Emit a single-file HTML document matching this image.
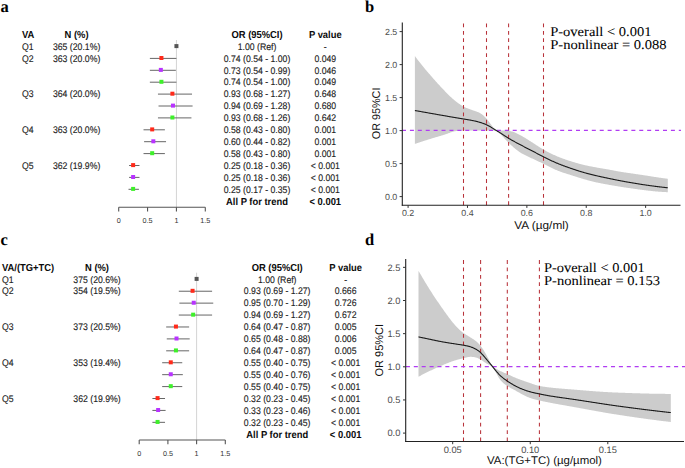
<!DOCTYPE html>
<html><head><meta charset="utf-8"><title>Figure</title>
<style>html,body{margin:0;padding:0;background:#fff;width:685px;height:468px;overflow:hidden;}svg{display:block;}</style>
</head><body>
<svg width="685" height="468" viewBox="0 0 685 468" text-rendering="geometricPrecision">
<rect width="685" height="468" fill="#ffffff"/>
<text x="0.40" y="11.80" font-size="16.5" text-anchor="start" font-weight="bold" fill="#000" font-family='"Liberation Serif", serif' >a</text>
<text transform="translate(22.00 38.00) scale(1 1.08)" font-size="9.4" text-anchor="start" font-weight="bold" fill="#0a0a0a" font-family='"Liberation Sans", sans-serif' >VA</text>
<text transform="translate(76.60 38.00) scale(1 1.08)" font-size="9.4" text-anchor="middle" font-weight="bold" fill="#0a0a0a" font-family='"Liberation Sans", sans-serif' >N (%)</text>
<text transform="translate(257.00 38.00) scale(1 1.08)" font-size="9.4" text-anchor="middle" font-weight="bold" fill="#0a0a0a" font-family='"Liberation Sans", sans-serif' >OR (95%CI)</text>
<text transform="translate(325.30 38.00) scale(1 1.08)" font-size="9.4" text-anchor="middle" font-weight="bold" fill="#0a0a0a" font-family='"Liberation Sans", sans-serif' >P value</text>
<text transform="translate(22.00 49.70) scale(1 1.1)" font-size="8.7" text-anchor="start" font-weight="normal" fill="#1c1c1c" font-family='"Liberation Sans", sans-serif' stroke="#1c1c1c" stroke-width="0.12" >Q1</text>
<text transform="translate(76.60 49.70) scale(1 1.1)" font-size="8.7" text-anchor="middle" font-weight="normal" fill="#1c1c1c" font-family='"Liberation Sans", sans-serif' stroke="#1c1c1c" stroke-width="0.12" >365 (20.1%)</text>
<text transform="translate(22.00 61.60) scale(1 1.1)" font-size="8.7" text-anchor="start" font-weight="normal" fill="#1c1c1c" font-family='"Liberation Sans", sans-serif' stroke="#1c1c1c" stroke-width="0.12" >Q2</text>
<text transform="translate(76.60 61.60) scale(1 1.1)" font-size="8.7" text-anchor="middle" font-weight="normal" fill="#1c1c1c" font-family='"Liberation Sans", sans-serif' stroke="#1c1c1c" stroke-width="0.12" >363 (20.0%)</text>
<text transform="translate(22.00 97.30) scale(1 1.1)" font-size="8.7" text-anchor="start" font-weight="normal" fill="#1c1c1c" font-family='"Liberation Sans", sans-serif' stroke="#1c1c1c" stroke-width="0.12" >Q3</text>
<text transform="translate(76.60 97.30) scale(1 1.1)" font-size="8.7" text-anchor="middle" font-weight="normal" fill="#1c1c1c" font-family='"Liberation Sans", sans-serif' stroke="#1c1c1c" stroke-width="0.12" >364 (20.0%)</text>
<text transform="translate(22.00 133.00) scale(1 1.1)" font-size="8.7" text-anchor="start" font-weight="normal" fill="#1c1c1c" font-family='"Liberation Sans", sans-serif' stroke="#1c1c1c" stroke-width="0.12" >Q4</text>
<text transform="translate(76.60 133.00) scale(1 1.1)" font-size="8.7" text-anchor="middle" font-weight="normal" fill="#1c1c1c" font-family='"Liberation Sans", sans-serif' stroke="#1c1c1c" stroke-width="0.12" >363 (20.0%)</text>
<text transform="translate(22.00 168.70) scale(1 1.1)" font-size="8.7" text-anchor="start" font-weight="normal" fill="#1c1c1c" font-family='"Liberation Sans", sans-serif' stroke="#1c1c1c" stroke-width="0.12" >Q5</text>
<text transform="translate(76.60 168.70) scale(1 1.1)" font-size="8.7" text-anchor="middle" font-weight="normal" fill="#1c1c1c" font-family='"Liberation Sans", sans-serif' stroke="#1c1c1c" stroke-width="0.12" >362 (19.9%)</text>
<text transform="translate(257.00 49.70) scale(1 1.1)" font-size="8.7" text-anchor="middle" font-weight="normal" fill="#1c1c1c" font-family='"Liberation Sans", sans-serif' stroke="#1c1c1c" stroke-width="0.12" >1.00 (Ref)</text>
<text transform="translate(325.30 49.70) scale(1 1.1)" font-size="8.7" text-anchor="middle" font-weight="normal" fill="#1c1c1c" font-family='"Liberation Sans", sans-serif' stroke="#1c1c1c" stroke-width="0.12" >-</text>
<text transform="translate(257.00 61.60) scale(1 1.1)" font-size="8.7" text-anchor="middle" font-weight="normal" fill="#1c1c1c" font-family='"Liberation Sans", sans-serif' stroke="#1c1c1c" stroke-width="0.12" >0.74 (0.54 - 1.00)</text>
<text transform="translate(325.30 61.60) scale(1 1.1)" font-size="8.7" text-anchor="middle" font-weight="normal" fill="#1c1c1c" font-family='"Liberation Sans", sans-serif' stroke="#1c1c1c" stroke-width="0.12" >0.049</text>
<text transform="translate(257.00 73.50) scale(1 1.1)" font-size="8.7" text-anchor="middle" font-weight="normal" fill="#1c1c1c" font-family='"Liberation Sans", sans-serif' stroke="#1c1c1c" stroke-width="0.12" >0.73 (0.54 - 0.99)</text>
<text transform="translate(325.30 73.50) scale(1 1.1)" font-size="8.7" text-anchor="middle" font-weight="normal" fill="#1c1c1c" font-family='"Liberation Sans", sans-serif' stroke="#1c1c1c" stroke-width="0.12" >0.046</text>
<text transform="translate(257.00 85.40) scale(1 1.1)" font-size="8.7" text-anchor="middle" font-weight="normal" fill="#1c1c1c" font-family='"Liberation Sans", sans-serif' stroke="#1c1c1c" stroke-width="0.12" >0.74 (0.54 - 1.00)</text>
<text transform="translate(325.30 85.40) scale(1 1.1)" font-size="8.7" text-anchor="middle" font-weight="normal" fill="#1c1c1c" font-family='"Liberation Sans", sans-serif' stroke="#1c1c1c" stroke-width="0.12" >0.049</text>
<text transform="translate(257.00 97.30) scale(1 1.1)" font-size="8.7" text-anchor="middle" font-weight="normal" fill="#1c1c1c" font-family='"Liberation Sans", sans-serif' stroke="#1c1c1c" stroke-width="0.12" >0.93 (0.68 - 1.27)</text>
<text transform="translate(325.30 97.30) scale(1 1.1)" font-size="8.7" text-anchor="middle" font-weight="normal" fill="#1c1c1c" font-family='"Liberation Sans", sans-serif' stroke="#1c1c1c" stroke-width="0.12" >0.648</text>
<text transform="translate(257.00 109.20) scale(1 1.1)" font-size="8.7" text-anchor="middle" font-weight="normal" fill="#1c1c1c" font-family='"Liberation Sans", sans-serif' stroke="#1c1c1c" stroke-width="0.12" >0.94 (0.69 - 1.28)</text>
<text transform="translate(325.30 109.20) scale(1 1.1)" font-size="8.7" text-anchor="middle" font-weight="normal" fill="#1c1c1c" font-family='"Liberation Sans", sans-serif' stroke="#1c1c1c" stroke-width="0.12" >0.680</text>
<text transform="translate(257.00 121.10) scale(1 1.1)" font-size="8.7" text-anchor="middle" font-weight="normal" fill="#1c1c1c" font-family='"Liberation Sans", sans-serif' stroke="#1c1c1c" stroke-width="0.12" >0.93 (0.68 - 1.26)</text>
<text transform="translate(325.30 121.10) scale(1 1.1)" font-size="8.7" text-anchor="middle" font-weight="normal" fill="#1c1c1c" font-family='"Liberation Sans", sans-serif' stroke="#1c1c1c" stroke-width="0.12" >0.642</text>
<text transform="translate(257.00 133.00) scale(1 1.1)" font-size="8.7" text-anchor="middle" font-weight="normal" fill="#1c1c1c" font-family='"Liberation Sans", sans-serif' stroke="#1c1c1c" stroke-width="0.12" >0.58 (0.43 - 0.80)</text>
<text transform="translate(325.30 133.00) scale(1 1.1)" font-size="8.7" text-anchor="middle" font-weight="normal" fill="#1c1c1c" font-family='"Liberation Sans", sans-serif' stroke="#1c1c1c" stroke-width="0.12" >0.001</text>
<text transform="translate(257.00 144.90) scale(1 1.1)" font-size="8.7" text-anchor="middle" font-weight="normal" fill="#1c1c1c" font-family='"Liberation Sans", sans-serif' stroke="#1c1c1c" stroke-width="0.12" >0.60 (0.44 - 0.82)</text>
<text transform="translate(325.30 144.90) scale(1 1.1)" font-size="8.7" text-anchor="middle" font-weight="normal" fill="#1c1c1c" font-family='"Liberation Sans", sans-serif' stroke="#1c1c1c" stroke-width="0.12" >0.001</text>
<text transform="translate(257.00 156.80) scale(1 1.1)" font-size="8.7" text-anchor="middle" font-weight="normal" fill="#1c1c1c" font-family='"Liberation Sans", sans-serif' stroke="#1c1c1c" stroke-width="0.12" >0.58 (0.43 - 0.80)</text>
<text transform="translate(325.30 156.80) scale(1 1.1)" font-size="8.7" text-anchor="middle" font-weight="normal" fill="#1c1c1c" font-family='"Liberation Sans", sans-serif' stroke="#1c1c1c" stroke-width="0.12" >0.001</text>
<text transform="translate(257.00 168.70) scale(1 1.1)" font-size="8.7" text-anchor="middle" font-weight="normal" fill="#1c1c1c" font-family='"Liberation Sans", sans-serif' stroke="#1c1c1c" stroke-width="0.12" >0.25 (0.18 - 0.36)</text>
<text transform="translate(325.30 168.70) scale(1 1.1)" font-size="8.7" text-anchor="middle" font-weight="normal" fill="#1c1c1c" font-family='"Liberation Sans", sans-serif' stroke="#1c1c1c" stroke-width="0.12" >&lt; 0.001</text>
<text transform="translate(257.00 180.60) scale(1 1.1)" font-size="8.7" text-anchor="middle" font-weight="normal" fill="#1c1c1c" font-family='"Liberation Sans", sans-serif' stroke="#1c1c1c" stroke-width="0.12" >0.25 (0.18 - 0.36)</text>
<text transform="translate(325.30 180.60) scale(1 1.1)" font-size="8.7" text-anchor="middle" font-weight="normal" fill="#1c1c1c" font-family='"Liberation Sans", sans-serif' stroke="#1c1c1c" stroke-width="0.12" >&lt; 0.001</text>
<text transform="translate(257.00 192.50) scale(1 1.1)" font-size="8.7" text-anchor="middle" font-weight="normal" fill="#1c1c1c" font-family='"Liberation Sans", sans-serif' stroke="#1c1c1c" stroke-width="0.12" >0.25 (0.17 - 0.35)</text>
<text transform="translate(325.30 192.50) scale(1 1.1)" font-size="8.7" text-anchor="middle" font-weight="normal" fill="#1c1c1c" font-family='"Liberation Sans", sans-serif' stroke="#1c1c1c" stroke-width="0.12" >&lt; 0.001</text>
<text transform="translate(257.00 204.80) scale(1 1.08)" font-size="9.4" text-anchor="middle" font-weight="bold" fill="#0a0a0a" font-family='"Liberation Sans", sans-serif' >All P for trend</text>
<text transform="translate(325.30 204.80) scale(1 1.08)" font-size="9.4" text-anchor="middle" font-weight="bold" fill="#0a0a0a" font-family='"Liberation Sans", sans-serif' >&lt; 0.001</text>
<line x1="176.43" y1="40" x2="176.43" y2="207.2" stroke="#d4d4d4" stroke-width="1"/>
<line x1="118.70" y1="207.2" x2="205.30" y2="207.2" stroke="#555" stroke-width="1.1"/>
<line x1="118.70" y1="207.2" x2="118.70" y2="211.5" stroke="#555" stroke-width="1.1"/>
<text x="118.70" y="223.30" font-size="7.2" text-anchor="middle" font-weight="normal" fill="#333" font-family='"Liberation Sans", sans-serif' >0</text>
<line x1="147.56" y1="207.2" x2="147.56" y2="211.5" stroke="#555" stroke-width="1.1"/>
<text x="147.56" y="223.30" font-size="7.2" text-anchor="middle" font-weight="normal" fill="#333" font-family='"Liberation Sans", sans-serif' >0.5</text>
<line x1="176.43" y1="207.2" x2="176.43" y2="211.5" stroke="#555" stroke-width="1.1"/>
<text x="176.43" y="223.30" font-size="7.2" text-anchor="middle" font-weight="normal" fill="#333" font-family='"Liberation Sans", sans-serif' >1</text>
<line x1="205.30" y1="207.2" x2="205.30" y2="211.5" stroke="#555" stroke-width="1.1"/>
<text x="205.30" y="223.30" font-size="7.2" text-anchor="middle" font-weight="normal" fill="#333" font-family='"Liberation Sans", sans-serif' >1.5</text>
<rect x="174.43" y="44.10" width="4" height="4" fill="#555"/>
<line x1="149.87" y1="58.40" x2="176.43" y2="58.40" stroke="#666" stroke-width="1"/>
<rect x="159.42" y="56.00" width="4" height="4" fill="#ff2a1a"/>
<line x1="149.87" y1="70.30" x2="175.85" y2="70.30" stroke="#666" stroke-width="1"/>
<rect x="158.84" y="67.90" width="4" height="4" fill="#b833ff"/>
<line x1="149.87" y1="82.20" x2="176.43" y2="82.20" stroke="#666" stroke-width="1"/>
<rect x="159.42" y="79.80" width="4" height="4" fill="#3ef02a"/>
<line x1="157.96" y1="94.10" x2="192.02" y2="94.10" stroke="#666" stroke-width="1"/>
<rect x="170.39" y="91.70" width="4" height="4" fill="#ff2a1a"/>
<line x1="158.53" y1="106.00" x2="192.59" y2="106.00" stroke="#666" stroke-width="1"/>
<rect x="170.97" y="103.60" width="4" height="4" fill="#b833ff"/>
<line x1="157.96" y1="117.90" x2="191.44" y2="117.90" stroke="#666" stroke-width="1"/>
<rect x="170.39" y="115.50" width="4" height="4" fill="#3ef02a"/>
<line x1="143.52" y1="129.80" x2="164.88" y2="129.80" stroke="#666" stroke-width="1"/>
<rect x="150.18" y="127.40" width="4" height="4" fill="#ff2a1a"/>
<line x1="144.10" y1="141.70" x2="166.04" y2="141.70" stroke="#666" stroke-width="1"/>
<rect x="151.34" y="139.30" width="4" height="4" fill="#b833ff"/>
<line x1="143.52" y1="153.60" x2="164.88" y2="153.60" stroke="#666" stroke-width="1"/>
<rect x="150.18" y="151.20" width="4" height="4" fill="#3ef02a"/>
<line x1="129.09" y1="165.50" x2="139.48" y2="165.50" stroke="#666" stroke-width="1"/>
<rect x="131.13" y="163.10" width="4" height="4" fill="#ff2a1a"/>
<line x1="129.09" y1="177.40" x2="139.48" y2="177.40" stroke="#666" stroke-width="1"/>
<rect x="131.13" y="175.00" width="4" height="4" fill="#b833ff"/>
<line x1="128.51" y1="189.30" x2="138.91" y2="189.30" stroke="#666" stroke-width="1"/>
<rect x="131.13" y="186.90" width="4" height="4" fill="#3ef02a"/>
<text x="0.40" y="244.80" font-size="16.5" text-anchor="start" font-weight="bold" fill="#000" font-family='"Liberation Serif", serif' >c</text>
<text transform="translate(2.00 271.10) scale(1 1.08)" font-size="9.4" text-anchor="start" font-weight="bold" fill="#0a0a0a" font-family='"Liberation Sans", sans-serif' >VA/(TG+TC)</text>
<text transform="translate(97.00 271.10) scale(1 1.08)" font-size="9.4" text-anchor="middle" font-weight="bold" fill="#0a0a0a" font-family='"Liberation Sans", sans-serif' >N (%)</text>
<text transform="translate(277.20 271.10) scale(1 1.08)" font-size="9.4" text-anchor="middle" font-weight="bold" fill="#0a0a0a" font-family='"Liberation Sans", sans-serif' >OR (95%CI)</text>
<text transform="translate(345.60 271.10) scale(1 1.08)" font-size="9.4" text-anchor="middle" font-weight="bold" fill="#0a0a0a" font-family='"Liberation Sans", sans-serif' >P value</text>
<text transform="translate(2.00 282.50) scale(1 1.1)" font-size="8.7" text-anchor="start" font-weight="normal" fill="#1c1c1c" font-family='"Liberation Sans", sans-serif' stroke="#1c1c1c" stroke-width="0.12" >Q1</text>
<text transform="translate(97.00 282.50) scale(1 1.1)" font-size="8.7" text-anchor="middle" font-weight="normal" fill="#1c1c1c" font-family='"Liberation Sans", sans-serif' stroke="#1c1c1c" stroke-width="0.12" >375 (20.6%)</text>
<text transform="translate(2.00 294.42) scale(1 1.1)" font-size="8.7" text-anchor="start" font-weight="normal" fill="#1c1c1c" font-family='"Liberation Sans", sans-serif' stroke="#1c1c1c" stroke-width="0.12" >Q2</text>
<text transform="translate(97.00 294.42) scale(1 1.1)" font-size="8.7" text-anchor="middle" font-weight="normal" fill="#1c1c1c" font-family='"Liberation Sans", sans-serif' stroke="#1c1c1c" stroke-width="0.12" >354 (19.5%)</text>
<text transform="translate(2.00 330.18) scale(1 1.1)" font-size="8.7" text-anchor="start" font-weight="normal" fill="#1c1c1c" font-family='"Liberation Sans", sans-serif' stroke="#1c1c1c" stroke-width="0.12" >Q3</text>
<text transform="translate(97.00 330.18) scale(1 1.1)" font-size="8.7" text-anchor="middle" font-weight="normal" fill="#1c1c1c" font-family='"Liberation Sans", sans-serif' stroke="#1c1c1c" stroke-width="0.12" >373 (20.5%)</text>
<text transform="translate(2.00 365.94) scale(1 1.1)" font-size="8.7" text-anchor="start" font-weight="normal" fill="#1c1c1c" font-family='"Liberation Sans", sans-serif' stroke="#1c1c1c" stroke-width="0.12" >Q4</text>
<text transform="translate(97.00 365.94) scale(1 1.1)" font-size="8.7" text-anchor="middle" font-weight="normal" fill="#1c1c1c" font-family='"Liberation Sans", sans-serif' stroke="#1c1c1c" stroke-width="0.12" >353 (19.4%)</text>
<text transform="translate(2.00 401.70) scale(1 1.1)" font-size="8.7" text-anchor="start" font-weight="normal" fill="#1c1c1c" font-family='"Liberation Sans", sans-serif' stroke="#1c1c1c" stroke-width="0.12" >Q5</text>
<text transform="translate(97.00 401.70) scale(1 1.1)" font-size="8.7" text-anchor="middle" font-weight="normal" fill="#1c1c1c" font-family='"Liberation Sans", sans-serif' stroke="#1c1c1c" stroke-width="0.12" >362 (19.9%)</text>
<text transform="translate(277.20 282.50) scale(1 1.1)" font-size="8.7" text-anchor="middle" font-weight="normal" fill="#1c1c1c" font-family='"Liberation Sans", sans-serif' stroke="#1c1c1c" stroke-width="0.12" >1.00 (Ref)</text>
<text transform="translate(345.60 282.50) scale(1 1.1)" font-size="8.7" text-anchor="middle" font-weight="normal" fill="#1c1c1c" font-family='"Liberation Sans", sans-serif' stroke="#1c1c1c" stroke-width="0.12" >-</text>
<text transform="translate(277.20 294.42) scale(1 1.1)" font-size="8.7" text-anchor="middle" font-weight="normal" fill="#1c1c1c" font-family='"Liberation Sans", sans-serif' stroke="#1c1c1c" stroke-width="0.12" >0.93 (0.69 - 1.27)</text>
<text transform="translate(345.60 294.42) scale(1 1.1)" font-size="8.7" text-anchor="middle" font-weight="normal" fill="#1c1c1c" font-family='"Liberation Sans", sans-serif' stroke="#1c1c1c" stroke-width="0.12" >0.666</text>
<text transform="translate(277.20 306.34) scale(1 1.1)" font-size="8.7" text-anchor="middle" font-weight="normal" fill="#1c1c1c" font-family='"Liberation Sans", sans-serif' stroke="#1c1c1c" stroke-width="0.12" >0.95 (0.70 - 1.29)</text>
<text transform="translate(345.60 306.34) scale(1 1.1)" font-size="8.7" text-anchor="middle" font-weight="normal" fill="#1c1c1c" font-family='"Liberation Sans", sans-serif' stroke="#1c1c1c" stroke-width="0.12" >0.726</text>
<text transform="translate(277.20 318.26) scale(1 1.1)" font-size="8.7" text-anchor="middle" font-weight="normal" fill="#1c1c1c" font-family='"Liberation Sans", sans-serif' stroke="#1c1c1c" stroke-width="0.12" >0.94 (0.69 - 1.27)</text>
<text transform="translate(345.60 318.26) scale(1 1.1)" font-size="8.7" text-anchor="middle" font-weight="normal" fill="#1c1c1c" font-family='"Liberation Sans", sans-serif' stroke="#1c1c1c" stroke-width="0.12" >0.672</text>
<text transform="translate(277.20 330.18) scale(1 1.1)" font-size="8.7" text-anchor="middle" font-weight="normal" fill="#1c1c1c" font-family='"Liberation Sans", sans-serif' stroke="#1c1c1c" stroke-width="0.12" >0.64 (0.47 - 0.87)</text>
<text transform="translate(345.60 330.18) scale(1 1.1)" font-size="8.7" text-anchor="middle" font-weight="normal" fill="#1c1c1c" font-family='"Liberation Sans", sans-serif' stroke="#1c1c1c" stroke-width="0.12" >0.005</text>
<text transform="translate(277.20 342.10) scale(1 1.1)" font-size="8.7" text-anchor="middle" font-weight="normal" fill="#1c1c1c" font-family='"Liberation Sans", sans-serif' stroke="#1c1c1c" stroke-width="0.12" >0.65 (0.48 - 0.88)</text>
<text transform="translate(345.60 342.10) scale(1 1.1)" font-size="8.7" text-anchor="middle" font-weight="normal" fill="#1c1c1c" font-family='"Liberation Sans", sans-serif' stroke="#1c1c1c" stroke-width="0.12" >0.006</text>
<text transform="translate(277.20 354.02) scale(1 1.1)" font-size="8.7" text-anchor="middle" font-weight="normal" fill="#1c1c1c" font-family='"Liberation Sans", sans-serif' stroke="#1c1c1c" stroke-width="0.12" >0.64 (0.47 - 0.87)</text>
<text transform="translate(345.60 354.02) scale(1 1.1)" font-size="8.7" text-anchor="middle" font-weight="normal" fill="#1c1c1c" font-family='"Liberation Sans", sans-serif' stroke="#1c1c1c" stroke-width="0.12" >0.005</text>
<text transform="translate(277.20 365.94) scale(1 1.1)" font-size="8.7" text-anchor="middle" font-weight="normal" fill="#1c1c1c" font-family='"Liberation Sans", sans-serif' stroke="#1c1c1c" stroke-width="0.12" >0.55 (0.40 - 0.75)</text>
<text transform="translate(345.60 365.94) scale(1 1.1)" font-size="8.7" text-anchor="middle" font-weight="normal" fill="#1c1c1c" font-family='"Liberation Sans", sans-serif' stroke="#1c1c1c" stroke-width="0.12" >&lt; 0.001</text>
<text transform="translate(277.20 377.86) scale(1 1.1)" font-size="8.7" text-anchor="middle" font-weight="normal" fill="#1c1c1c" font-family='"Liberation Sans", sans-serif' stroke="#1c1c1c" stroke-width="0.12" >0.55 (0.40 - 0.76)</text>
<text transform="translate(345.60 377.86) scale(1 1.1)" font-size="8.7" text-anchor="middle" font-weight="normal" fill="#1c1c1c" font-family='"Liberation Sans", sans-serif' stroke="#1c1c1c" stroke-width="0.12" >&lt; 0.001</text>
<text transform="translate(277.20 389.78) scale(1 1.1)" font-size="8.7" text-anchor="middle" font-weight="normal" fill="#1c1c1c" font-family='"Liberation Sans", sans-serif' stroke="#1c1c1c" stroke-width="0.12" >0.55 (0.40 - 0.75)</text>
<text transform="translate(345.60 389.78) scale(1 1.1)" font-size="8.7" text-anchor="middle" font-weight="normal" fill="#1c1c1c" font-family='"Liberation Sans", sans-serif' stroke="#1c1c1c" stroke-width="0.12" >&lt; 0.001</text>
<text transform="translate(277.20 401.70) scale(1 1.1)" font-size="8.7" text-anchor="middle" font-weight="normal" fill="#1c1c1c" font-family='"Liberation Sans", sans-serif' stroke="#1c1c1c" stroke-width="0.12" >0.32 (0.23 - 0.45)</text>
<text transform="translate(345.60 401.70) scale(1 1.1)" font-size="8.7" text-anchor="middle" font-weight="normal" fill="#1c1c1c" font-family='"Liberation Sans", sans-serif' stroke="#1c1c1c" stroke-width="0.12" >&lt; 0.001</text>
<text transform="translate(277.20 413.62) scale(1 1.1)" font-size="8.7" text-anchor="middle" font-weight="normal" fill="#1c1c1c" font-family='"Liberation Sans", sans-serif' stroke="#1c1c1c" stroke-width="0.12" >0.33 (0.23 - 0.46)</text>
<text transform="translate(345.60 413.62) scale(1 1.1)" font-size="8.7" text-anchor="middle" font-weight="normal" fill="#1c1c1c" font-family='"Liberation Sans", sans-serif' stroke="#1c1c1c" stroke-width="0.12" >&lt; 0.001</text>
<text transform="translate(277.20 425.54) scale(1 1.1)" font-size="8.7" text-anchor="middle" font-weight="normal" fill="#1c1c1c" font-family='"Liberation Sans", sans-serif' stroke="#1c1c1c" stroke-width="0.12" >0.32 (0.23 - 0.45)</text>
<text transform="translate(345.60 425.54) scale(1 1.1)" font-size="8.7" text-anchor="middle" font-weight="normal" fill="#1c1c1c" font-family='"Liberation Sans", sans-serif' stroke="#1c1c1c" stroke-width="0.12" >&lt; 0.001</text>
<text transform="translate(277.20 437.86) scale(1 1.08)" font-size="9.4" text-anchor="middle" font-weight="bold" fill="#0a0a0a" font-family='"Liberation Sans", sans-serif' >All P for trend</text>
<text transform="translate(345.60 437.86) scale(1 1.08)" font-size="9.4" text-anchor="middle" font-weight="bold" fill="#0a0a0a" font-family='"Liberation Sans", sans-serif' >&lt; 0.001</text>
<line x1="196.60" y1="272.7" x2="196.60" y2="440.0" stroke="#d4d4d4" stroke-width="1"/>
<line x1="139.20" y1="440.0" x2="225.30" y2="440.0" stroke="#555" stroke-width="1.1"/>
<line x1="139.20" y1="440.0" x2="139.20" y2="444.3" stroke="#555" stroke-width="1.1"/>
<text x="139.20" y="455.90" font-size="7.2" text-anchor="middle" font-weight="normal" fill="#333" font-family='"Liberation Sans", sans-serif' >0</text>
<line x1="167.90" y1="440.0" x2="167.90" y2="444.3" stroke="#555" stroke-width="1.1"/>
<text x="167.90" y="455.90" font-size="7.2" text-anchor="middle" font-weight="normal" fill="#333" font-family='"Liberation Sans", sans-serif' >0.5</text>
<line x1="196.60" y1="440.0" x2="196.60" y2="444.3" stroke="#555" stroke-width="1.1"/>
<text x="196.60" y="455.90" font-size="7.2" text-anchor="middle" font-weight="normal" fill="#333" font-family='"Liberation Sans", sans-serif' >1</text>
<line x1="225.30" y1="440.0" x2="225.30" y2="444.3" stroke="#555" stroke-width="1.1"/>
<text x="225.30" y="455.90" font-size="7.2" text-anchor="middle" font-weight="normal" fill="#333" font-family='"Liberation Sans", sans-serif' >1.5</text>
<rect x="194.60" y="276.90" width="4" height="4" fill="#555"/>
<line x1="178.81" y1="291.22" x2="212.10" y2="291.22" stroke="#666" stroke-width="1"/>
<rect x="190.58" y="288.82" width="4" height="4" fill="#ff2a1a"/>
<line x1="179.38" y1="303.14" x2="213.25" y2="303.14" stroke="#666" stroke-width="1"/>
<rect x="191.73" y="300.74" width="4" height="4" fill="#b833ff"/>
<line x1="178.81" y1="315.06" x2="212.10" y2="315.06" stroke="#666" stroke-width="1"/>
<rect x="191.16" y="312.66" width="4" height="4" fill="#3ef02a"/>
<line x1="166.18" y1="326.98" x2="189.14" y2="326.98" stroke="#666" stroke-width="1"/>
<rect x="173.94" y="324.58" width="4" height="4" fill="#ff2a1a"/>
<line x1="166.75" y1="338.90" x2="189.71" y2="338.90" stroke="#666" stroke-width="1"/>
<rect x="174.51" y="336.50" width="4" height="4" fill="#b833ff"/>
<line x1="166.18" y1="350.82" x2="189.14" y2="350.82" stroke="#666" stroke-width="1"/>
<rect x="173.94" y="348.42" width="4" height="4" fill="#3ef02a"/>
<line x1="162.16" y1="362.74" x2="182.25" y2="362.74" stroke="#666" stroke-width="1"/>
<rect x="168.77" y="360.34" width="4" height="4" fill="#ff2a1a"/>
<line x1="162.16" y1="374.66" x2="182.82" y2="374.66" stroke="#666" stroke-width="1"/>
<rect x="168.77" y="372.26" width="4" height="4" fill="#b833ff"/>
<line x1="162.16" y1="386.58" x2="182.25" y2="386.58" stroke="#666" stroke-width="1"/>
<rect x="168.77" y="384.18" width="4" height="4" fill="#3ef02a"/>
<line x1="152.40" y1="398.50" x2="165.03" y2="398.50" stroke="#666" stroke-width="1"/>
<rect x="155.57" y="396.10" width="4" height="4" fill="#ff2a1a"/>
<line x1="152.40" y1="410.42" x2="165.60" y2="410.42" stroke="#666" stroke-width="1"/>
<rect x="156.14" y="408.02" width="4" height="4" fill="#b833ff"/>
<line x1="152.40" y1="422.34" x2="165.03" y2="422.34" stroke="#666" stroke-width="1"/>
<rect x="155.57" y="419.94" width="4" height="4" fill="#3ef02a"/>
<text x="364.90" y="11.90" font-size="16.5" text-anchor="start" font-weight="bold" fill="#000" font-family='"Liberation Serif", serif' >b</text>
<path d="M414.90,56.09 L415.40,56.75 L415.90,57.41 L416.40,58.07 L416.90,58.73 L417.40,59.38 L417.90,60.04 L418.40,60.68 L418.90,61.33 L419.40,61.97 L419.90,62.60 L420.40,63.24 L420.90,63.87 L421.40,64.50 L421.90,65.12 L422.40,65.74 L422.90,66.36 L423.40,66.97 L423.90,67.58 L424.40,68.18 L424.90,68.79 L425.40,69.38 L425.90,69.98 L426.40,70.57 L426.90,71.15 L427.40,71.73 L427.90,72.31 L428.40,72.89 L428.90,73.47 L429.40,74.04 L429.90,74.62 L430.40,75.19 L430.90,75.76 L431.40,76.34 L431.90,76.91 L432.40,77.48 L432.90,78.06 L433.40,78.63 L433.90,79.20 L434.40,79.77 L434.90,80.34 L435.40,80.91 L435.90,81.47 L436.40,82.04 L436.90,82.59 L437.40,83.15 L437.90,83.70 L438.40,84.25 L438.90,84.79 L439.40,85.33 L439.90,85.87 L440.40,86.41 L440.90,86.94 L441.40,87.47 L441.90,88.00 L442.40,88.52 L442.90,89.05 L443.40,89.57 L443.90,90.09 L444.40,90.61 L444.90,91.13 L445.40,91.65 L445.90,92.16 L446.40,92.68 L446.90,93.19 L447.40,93.70 L447.90,94.20 L448.40,94.71 L448.90,95.20 L449.40,95.69 L449.90,96.18 L450.40,96.65 L450.90,97.12 L451.40,97.59 L451.90,98.04 L452.40,98.48 L452.90,98.92 L453.40,99.35 L453.90,99.77 L454.40,100.18 L454.90,100.59 L455.40,100.99 L455.90,101.38 L456.40,101.77 L456.90,102.15 L457.40,102.53 L457.90,102.91 L458.40,103.28 L458.90,103.64 L459.40,104.00 L459.90,104.34 L460.40,104.68 L460.90,105.02 L461.40,105.34 L461.90,105.64 L462.40,105.94 L462.90,106.22 L463.40,106.49 L463.90,106.75 L464.40,107.00 L464.90,107.24 L465.40,107.47 L465.90,107.68 L466.40,107.90 L466.90,108.10 L467.40,108.30 L467.90,108.50 L468.40,108.69 L468.90,108.87 L469.40,109.06 L469.90,109.24 L470.40,109.42 L470.90,109.60 L471.40,109.78 L471.90,109.96 L472.40,110.13 L472.90,110.30 L473.40,110.47 L473.90,110.64 L474.40,110.81 L474.90,110.98 L475.40,111.15 L475.90,111.33 L476.40,111.51 L476.90,111.70 L477.40,111.90 L477.90,112.11 L478.40,112.33 L478.90,112.56 L479.40,112.81 L479.90,113.07 L480.40,113.35 L480.90,113.65 L481.40,113.97 L481.90,114.31 L482.40,114.68 L482.90,115.06 L483.40,115.48 L483.90,115.92 L484.40,116.38 L484.90,116.88 L485.40,117.40 L485.90,117.95 L486.40,118.53 L486.90,119.12 L487.40,119.74 L487.90,120.38 L488.40,121.03 L488.90,121.69 L489.40,122.36 L489.90,123.04 L490.40,123.71 L490.90,124.37 L491.40,125.03 L491.90,125.67 L492.40,126.29 L492.90,126.88 L493.40,127.43 L493.90,127.94 L494.40,128.41 L494.90,128.82 L495.40,129.18 L495.90,129.49 L496.40,129.75 L496.90,129.95 L497.40,130.11 L497.90,130.23 L498.40,130.32 L498.90,130.39 L499.40,130.43 L499.90,130.47 L500.40,130.49 L500.90,130.51 L501.40,130.52 L501.90,130.53 L502.40,130.54 L502.90,130.56 L503.40,130.57 L503.90,130.59 L504.40,130.61 L504.90,130.63 L505.40,130.65 L505.90,130.68 L506.40,130.72 L506.90,130.76 L507.40,130.80 L507.90,130.85 L508.40,130.91 L508.90,130.97 L509.40,131.03 L509.90,131.11 L510.40,131.19 L510.90,131.28 L511.40,131.38 L511.90,131.49 L512.40,131.62 L512.90,131.75 L513.40,131.91 L513.90,132.08 L514.40,132.26 L514.90,132.46 L515.40,132.68 L515.90,132.90 L516.40,133.14 L516.90,133.38 L517.40,133.64 L517.90,133.89 L518.40,134.15 L518.90,134.42 L519.40,134.69 L519.90,134.95 L520.40,135.23 L520.90,135.50 L521.40,135.78 L521.90,136.06 L522.40,136.34 L522.90,136.63 L523.40,136.92 L523.90,137.21 L524.40,137.51 L524.90,137.81 L525.40,138.12 L525.90,138.43 L526.40,138.74 L526.90,139.05 L527.40,139.37 L527.90,139.68 L528.40,140.00 L528.90,140.32 L529.40,140.64 L529.90,140.96 L530.40,141.28 L530.90,141.59 L531.40,141.91 L531.90,142.23 L532.40,142.55 L532.90,142.87 L533.40,143.19 L533.90,143.51 L534.40,143.83 L534.90,144.16 L535.40,144.48 L535.90,144.81 L536.40,145.14 L536.90,145.46 L537.40,145.79 L537.90,146.12 L538.40,146.44 L538.90,146.76 L539.40,147.08 L539.90,147.40 L540.40,147.71 L540.90,148.02 L541.40,148.33 L541.90,148.63 L542.40,148.93 L542.90,149.22 L543.40,149.51 L543.90,149.79 L544.40,150.07 L544.90,150.35 L545.40,150.62 L545.90,150.89 L546.40,151.16 L546.90,151.42 L547.40,151.69 L547.90,151.95 L548.40,152.21 L548.90,152.46 L549.40,152.71 L549.90,152.97 L550.40,153.21 L550.90,153.46 L551.40,153.70 L551.90,153.95 L552.40,154.18 L552.90,154.42 L553.40,154.65 L553.90,154.88 L554.40,155.11 L554.90,155.34 L555.40,155.56 L555.90,155.78 L556.40,156.00 L556.90,156.21 L557.40,156.42 L557.90,156.63 L558.40,156.84 L558.90,157.04 L559.40,157.24 L559.90,157.44 L560.40,157.63 L560.90,157.83 L561.40,158.02 L561.90,158.20 L562.40,158.39 L562.90,158.57 L563.40,158.75 L563.90,158.93 L564.40,159.11 L564.90,159.29 L565.40,159.46 L565.90,159.63 L566.40,159.80 L566.90,159.97 L567.40,160.14 L567.90,160.30 L568.40,160.47 L568.90,160.63 L569.40,160.79 L569.90,160.95 L570.40,161.11 L570.90,161.27 L571.40,161.42 L571.90,161.58 L572.40,161.74 L572.90,161.89 L573.40,162.04 L573.90,162.19 L574.40,162.35 L574.90,162.50 L575.40,162.65 L575.90,162.79 L576.40,162.94 L576.90,163.08 L577.40,163.23 L577.90,163.37 L578.40,163.51 L578.90,163.65 L579.40,163.79 L579.90,163.92 L580.40,164.06 L580.90,164.19 L581.40,164.32 L581.90,164.45 L582.40,164.57 L582.90,164.69 L583.40,164.82 L583.90,164.94 L584.40,165.05 L584.90,165.17 L585.40,165.28 L585.90,165.39 L586.40,165.50 L586.90,165.61 L587.40,165.72 L587.90,165.82 L588.40,165.92 L588.90,166.03 L589.40,166.13 L589.90,166.23 L590.40,166.32 L590.90,166.42 L591.40,166.52 L591.90,166.61 L592.40,166.71 L592.90,166.80 L593.40,166.90 L593.90,166.99 L594.40,167.08 L594.90,167.18 L595.40,167.27 L595.90,167.36 L596.40,167.45 L596.90,167.54 L597.40,167.63 L597.90,167.71 L598.40,167.80 L598.90,167.89 L599.40,167.97 L599.90,168.06 L600.40,168.14 L600.90,168.23 L601.40,168.31 L601.90,168.39 L602.40,168.48 L602.90,168.56 L603.40,168.65 L603.90,168.73 L604.40,168.81 L604.90,168.90 L605.40,168.99 L605.90,169.07 L606.40,169.16 L606.90,169.25 L607.40,169.34 L607.90,169.43 L608.40,169.52 L608.90,169.61 L609.40,169.70 L609.90,169.80 L610.40,169.89 L610.90,169.98 L611.40,170.08 L611.90,170.18 L612.40,170.27 L612.90,170.37 L613.40,170.47 L613.90,170.56 L614.40,170.66 L614.90,170.76 L615.40,170.85 L615.90,170.95 L616.40,171.04 L616.90,171.13 L617.40,171.23 L617.90,171.32 L618.40,171.41 L618.90,171.50 L619.40,171.58 L619.90,171.67 L620.40,171.75 L620.90,171.84 L621.40,171.92 L621.90,172.00 L622.40,172.08 L622.90,172.16 L623.40,172.24 L623.90,172.31 L624.40,172.39 L624.90,172.46 L625.40,172.54 L625.90,172.61 L626.40,172.68 L626.90,172.75 L627.40,172.83 L627.90,172.90 L628.40,172.97 L628.90,173.04 L629.40,173.11 L629.90,173.18 L630.40,173.25 L630.90,173.33 L631.40,173.40 L631.90,173.47 L632.40,173.54 L632.90,173.61 L633.40,173.69 L633.90,173.76 L634.40,173.83 L634.90,173.91 L635.40,173.98 L635.90,174.05 L636.40,174.13 L636.90,174.20 L637.40,174.27 L637.90,174.35 L638.40,174.42 L638.90,174.50 L639.40,174.57 L639.90,174.64 L640.40,174.72 L640.90,174.79 L641.40,174.87 L641.90,174.94 L642.40,175.01 L642.90,175.09 L643.40,175.16 L643.90,175.24 L644.40,175.31 L644.90,175.39 L645.40,175.47 L645.90,175.54 L646.40,175.62 L646.90,175.70 L647.40,175.77 L647.90,175.85 L648.40,175.93 L648.90,176.01 L649.40,176.09 L649.90,176.16 L650.40,176.24 L650.90,176.32 L651.40,176.40 L651.90,176.48 L652.40,176.56 L652.90,176.64 L653.40,176.72 L653.90,176.80 L654.40,176.88 L654.90,176.96 L655.40,177.03 L655.90,177.11 L656.40,177.19 L656.90,177.27 L657.40,177.34 L657.90,177.42 L658.40,177.49 L658.90,177.57 L659.40,177.64 L659.90,177.71 L660.40,177.78 L660.90,177.86 L661.40,177.93 L661.90,178.00 L662.40,178.07 L662.90,178.14 L663.40,178.21 L663.90,178.27 L664.40,178.34 L664.90,178.41 L665.40,178.47 L665.90,178.54 L666.40,178.60 L666.90,178.66 L667.40,178.73 L667.80,178.78 L667.80,192.19 L667.40,192.17 L666.90,192.15 L666.40,192.13 L665.90,192.11 L665.40,192.08 L664.90,192.06 L664.40,192.03 L663.90,192.00 L663.40,191.98 L662.90,191.95 L662.40,191.92 L661.90,191.88 L661.40,191.85 L660.90,191.82 L660.40,191.78 L659.90,191.75 L659.40,191.71 L658.90,191.68 L658.40,191.64 L657.90,191.60 L657.40,191.56 L656.90,191.51 L656.40,191.47 L655.90,191.43 L655.40,191.38 L654.90,191.33 L654.40,191.28 L653.90,191.23 L653.40,191.18 L652.90,191.13 L652.40,191.08 L651.90,191.03 L651.40,190.97 L650.90,190.92 L650.40,190.86 L649.90,190.81 L649.40,190.75 L648.90,190.70 L648.40,190.64 L647.90,190.58 L647.40,190.52 L646.90,190.47 L646.40,190.41 L645.90,190.35 L645.40,190.29 L644.90,190.23 L644.40,190.17 L643.90,190.11 L643.40,190.04 L642.90,189.98 L642.40,189.92 L641.90,189.85 L641.40,189.79 L640.90,189.72 L640.40,189.65 L639.90,189.59 L639.40,189.52 L638.90,189.45 L638.40,189.38 L637.90,189.31 L637.40,189.24 L636.90,189.17 L636.40,189.10 L635.90,189.04 L635.40,188.97 L634.90,188.90 L634.40,188.83 L633.90,188.76 L633.40,188.69 L632.90,188.62 L632.40,188.54 L631.90,188.47 L631.40,188.40 L630.90,188.33 L630.40,188.26 L629.90,188.19 L629.40,188.12 L628.90,188.05 L628.40,187.97 L627.90,187.90 L627.40,187.83 L626.90,187.76 L626.40,187.68 L625.90,187.61 L625.40,187.53 L624.90,187.46 L624.40,187.38 L623.90,187.31 L623.40,187.23 L622.90,187.15 L622.40,187.08 L621.90,187.00 L621.40,186.92 L620.90,186.84 L620.40,186.76 L619.90,186.68 L619.40,186.60 L618.90,186.52 L618.40,186.44 L617.90,186.36 L617.40,186.28 L616.90,186.19 L616.40,186.11 L615.90,186.03 L615.40,185.94 L614.90,185.86 L614.40,185.77 L613.90,185.68 L613.40,185.60 L612.90,185.51 L612.40,185.42 L611.90,185.33 L611.40,185.25 L610.90,185.16 L610.40,185.07 L609.90,184.98 L609.40,184.89 L608.90,184.80 L608.40,184.71 L607.90,184.62 L607.40,184.53 L606.90,184.44 L606.40,184.34 L605.90,184.25 L605.40,184.16 L604.90,184.07 L604.40,183.98 L603.90,183.88 L603.40,183.79 L602.90,183.70 L602.40,183.60 L601.90,183.51 L601.40,183.41 L600.90,183.32 L600.40,183.22 L599.90,183.12 L599.40,183.02 L598.90,182.92 L598.40,182.82 L597.90,182.71 L597.40,182.61 L596.90,182.50 L596.40,182.40 L595.90,182.29 L595.40,182.17 L594.90,182.06 L594.40,181.95 L593.90,181.83 L593.40,181.71 L592.90,181.59 L592.40,181.46 L591.90,181.34 L591.40,181.21 L590.90,181.08 L590.40,180.95 L589.90,180.82 L589.40,180.68 L588.90,180.55 L588.40,180.41 L587.90,180.27 L587.40,180.13 L586.90,179.99 L586.40,179.85 L585.90,179.71 L585.40,179.57 L584.90,179.42 L584.40,179.28 L583.90,179.13 L583.40,178.99 L582.90,178.84 L582.40,178.69 L581.90,178.54 L581.40,178.39 L580.90,178.24 L580.40,178.09 L579.90,177.94 L579.40,177.78 L578.90,177.63 L578.40,177.47 L577.90,177.31 L577.40,177.15 L576.90,176.99 L576.40,176.84 L575.90,176.68 L575.40,176.52 L574.90,176.36 L574.40,176.20 L573.90,176.04 L573.40,175.88 L572.90,175.72 L572.40,175.56 L571.90,175.40 L571.40,175.24 L570.90,175.08 L570.40,174.92 L569.90,174.76 L569.40,174.61 L568.90,174.45 L568.40,174.30 L567.90,174.14 L567.40,173.98 L566.90,173.83 L566.40,173.67 L565.90,173.51 L565.40,173.36 L564.90,173.20 L564.40,173.04 L563.90,172.88 L563.40,172.71 L562.90,172.55 L562.40,172.38 L561.90,172.21 L561.40,172.04 L560.90,171.86 L560.40,171.68 L559.90,171.50 L559.40,171.31 L558.90,171.12 L558.40,170.92 L557.90,170.72 L557.40,170.52 L556.90,170.31 L556.40,170.10 L555.90,169.88 L555.40,169.65 L554.90,169.43 L554.40,169.20 L553.90,168.96 L553.40,168.73 L552.90,168.48 L552.40,168.24 L551.90,168.00 L551.40,167.75 L550.90,167.50 L550.40,167.25 L549.90,167.00 L549.40,166.74 L548.90,166.49 L548.40,166.24 L547.90,165.99 L547.40,165.73 L546.90,165.48 L546.40,165.23 L545.90,164.98 L545.40,164.74 L544.90,164.49 L544.40,164.25 L543.90,164.01 L543.40,163.77 L542.90,163.53 L542.40,163.29 L541.90,163.06 L541.40,162.82 L540.90,162.59 L540.40,162.36 L539.90,162.12 L539.40,161.89 L538.90,161.66 L538.40,161.43 L537.90,161.19 L537.40,160.96 L536.90,160.73 L536.40,160.50 L535.90,160.26 L535.40,160.03 L534.90,159.79 L534.40,159.56 L533.90,159.32 L533.40,159.09 L532.90,158.85 L532.40,158.62 L531.90,158.38 L531.40,158.15 L530.90,157.92 L530.40,157.68 L529.90,157.45 L529.40,157.22 L528.90,156.99 L528.40,156.76 L527.90,156.52 L527.40,156.29 L526.90,156.05 L526.40,155.81 L525.90,155.57 L525.40,155.33 L524.90,155.08 L524.40,154.83 L523.90,154.57 L523.40,154.30 L522.90,154.03 L522.40,153.76 L521.90,153.47 L521.40,153.18 L520.90,152.88 L520.40,152.57 L519.90,152.25 L519.40,151.92 L518.90,151.58 L518.40,151.24 L517.90,150.87 L517.40,150.50 L516.90,150.12 L516.40,149.73 L515.90,149.33 L515.40,148.93 L514.90,148.51 L514.40,148.08 L513.90,147.65 L513.40,147.21 L512.90,146.77 L512.40,146.32 L511.90,145.86 L511.40,145.40 L510.90,144.94 L510.40,144.47 L509.90,144.00 L509.40,143.52 L508.90,143.04 L508.40,142.55 L507.90,142.05 L507.40,141.55 L506.90,141.04 L506.40,140.52 L505.90,140.00 L505.40,139.47 L504.90,138.93 L504.40,138.39 L503.90,137.84 L503.40,137.29 L502.90,136.74 L502.40,136.18 L501.90,135.62 L501.40,135.06 L500.90,134.51 L500.40,133.96 L499.90,133.42 L499.40,132.91 L498.90,132.44 L498.40,132.01 L497.90,131.63 L497.40,131.31 L496.90,131.05 L496.40,130.84 L495.90,130.69 L495.40,130.58 L494.90,130.51 L494.40,130.47 L493.90,130.44 L493.40,130.43 L492.90,130.42 L492.40,130.42 L491.90,130.42 L491.40,130.42 L490.90,130.42 L490.40,130.43 L489.90,130.43 L489.40,130.43 L488.90,130.44 L488.40,130.44 L487.90,130.44 L487.40,130.45 L486.90,130.45 L486.40,130.45 L485.90,130.46 L485.40,130.46 L484.90,130.47 L484.40,130.47 L483.90,130.47 L483.40,130.48 L482.90,130.48 L482.40,130.48 L481.90,130.49 L481.40,130.49 L480.90,130.49 L480.40,130.50 L479.90,130.50 L479.40,130.50 L478.90,130.51 L478.40,130.51 L477.90,130.51 L477.40,130.51 L476.90,130.51 L476.40,130.52 L475.90,130.52 L475.40,130.52 L474.90,130.52 L474.40,130.53 L473.90,130.53 L473.40,130.53 L472.90,130.53 L472.40,130.53 L471.90,130.54 L471.40,130.54 L470.90,130.54 L470.40,130.54 L469.90,130.55 L469.40,130.55 L468.90,130.55 L468.40,130.55 L467.90,130.56 L467.40,130.56 L466.90,130.56 L466.40,130.57 L465.90,130.57 L465.40,130.58 L464.90,130.58 L464.40,130.59 L463.90,130.60 L463.40,130.61 L462.90,130.62 L462.40,130.63 L461.90,130.65 L461.40,130.66 L460.90,130.68 L460.40,130.70 L459.90,130.73 L459.40,130.76 L458.90,130.79 L458.40,130.83 L457.90,130.87 L457.40,130.91 L456.90,130.97 L456.40,131.03 L455.90,131.09 L455.40,131.17 L454.90,131.26 L454.40,131.36 L453.90,131.47 L453.40,131.59 L452.90,131.72 L452.40,131.87 L451.90,132.02 L451.40,132.18 L450.90,132.35 L450.40,132.53 L449.90,132.71 L449.40,132.89 L448.90,133.07 L448.40,133.26 L447.90,133.45 L447.40,133.63 L446.90,133.81 L446.40,133.99 L445.90,134.16 L445.40,134.33 L444.90,134.50 L444.40,134.66 L443.90,134.82 L443.40,134.98 L442.90,135.13 L442.40,135.28 L441.90,135.44 L441.40,135.59 L440.90,135.74 L440.40,135.89 L439.90,136.03 L439.40,136.18 L438.90,136.33 L438.40,136.48 L437.90,136.63 L437.40,136.78 L436.90,136.92 L436.40,137.07 L435.90,137.22 L435.40,137.37 L434.90,137.52 L434.40,137.67 L433.90,137.82 L433.40,137.97 L432.90,138.12 L432.40,138.27 L431.90,138.42 L431.40,138.57 L430.90,138.73 L430.40,138.88 L429.90,139.04 L429.40,139.19 L428.90,139.35 L428.40,139.50 L427.90,139.66 L427.40,139.82 L426.90,139.98 L426.40,140.14 L425.90,140.30 L425.40,140.46 L424.90,140.62 L424.40,140.78 L423.90,140.94 L423.40,141.10 L422.90,141.26 L422.40,141.42 L421.90,141.58 L421.40,141.75 L420.90,141.91 L420.40,142.07 L419.90,142.24 L419.40,142.40 L418.90,142.57 L418.40,142.73 L417.90,142.90 L417.40,143.07 L416.90,143.23 L416.40,143.40 L415.90,143.57 L415.40,143.73 L414.90,143.90 Z" fill="#cccccc"/>
<line x1="463.5" y1="23.5" x2="463.5" y2="205.2" stroke="#b8323a" stroke-width="1.05" stroke-dasharray="3.8 3.61"/>
<line x1="486.5" y1="23.5" x2="486.5" y2="205.2" stroke="#b8323a" stroke-width="1.05" stroke-dasharray="3.8 3.61"/>
<line x1="508.6" y1="23.5" x2="508.6" y2="205.2" stroke="#b8323a" stroke-width="1.05" stroke-dasharray="3.8 3.61"/>
<line x1="543.5" y1="23.5" x2="543.5" y2="205.2" stroke="#b8323a" stroke-width="1.05" stroke-dasharray="3.8 3.61"/>
<line x1="402.0" y1="130.4" x2="681" y2="130.4" stroke="#b03cf2" stroke-width="1.1" stroke-dasharray="4 3.909"/>
<path d="M414.90,110.50 L415.40,110.59 L415.90,110.68 L416.40,110.77 L416.90,110.86 L417.40,110.95 L417.90,111.04 L418.40,111.13 L418.90,111.22 L419.40,111.31 L419.90,111.40 L420.40,111.49 L420.90,111.58 L421.40,111.67 L421.90,111.76 L422.40,111.85 L422.90,111.94 L423.40,112.03 L423.90,112.12 L424.40,112.20 L424.90,112.29 L425.40,112.38 L425.90,112.47 L426.40,112.56 L426.90,112.65 L427.40,112.74 L427.90,112.83 L428.40,112.92 L428.90,113.00 L429.40,113.09 L429.90,113.18 L430.40,113.27 L430.90,113.36 L431.40,113.45 L431.90,113.54 L432.40,113.62 L432.90,113.71 L433.40,113.80 L433.90,113.89 L434.40,113.98 L434.90,114.06 L435.40,114.15 L435.90,114.24 L436.40,114.33 L436.90,114.42 L437.40,114.50 L437.90,114.59 L438.40,114.68 L438.90,114.77 L439.40,114.85 L439.90,114.94 L440.40,115.03 L440.90,115.12 L441.40,115.20 L441.90,115.29 L442.40,115.38 L442.90,115.47 L443.40,115.55 L443.90,115.64 L444.40,115.73 L444.90,115.81 L445.40,115.90 L445.90,115.99 L446.40,116.08 L446.90,116.16 L447.40,116.25 L447.90,116.34 L448.40,116.42 L448.90,116.51 L449.40,116.60 L449.90,116.68 L450.40,116.77 L450.90,116.86 L451.40,116.94 L451.90,117.03 L452.40,117.12 L452.90,117.20 L453.40,117.29 L453.90,117.38 L454.40,117.46 L454.90,117.55 L455.40,117.64 L455.90,117.72 L456.40,117.81 L456.90,117.89 L457.40,117.98 L457.90,118.07 L458.40,118.15 L458.90,118.24 L459.40,118.32 L459.90,118.41 L460.40,118.49 L460.90,118.58 L461.40,118.66 L461.90,118.75 L462.40,118.83 L462.90,118.91 L463.40,118.99 L463.90,119.07 L464.40,119.15 L464.90,119.23 L465.40,119.31 L465.90,119.39 L466.40,119.47 L466.90,119.55 L467.40,119.63 L467.90,119.71 L468.40,119.79 L468.90,119.88 L469.40,119.96 L469.90,120.05 L470.40,120.14 L470.90,120.23 L471.40,120.32 L471.90,120.42 L472.40,120.52 L472.90,120.62 L473.40,120.72 L473.90,120.83 L474.40,120.94 L474.90,121.05 L475.40,121.16 L475.90,121.28 L476.40,121.40 L476.90,121.53 L477.40,121.65 L477.90,121.79 L478.40,121.92 L478.90,122.06 L479.40,122.20 L479.90,122.35 L480.40,122.50 L480.90,122.65 L481.40,122.81 L481.90,122.98 L482.40,123.15 L482.90,123.32 L483.40,123.50 L483.90,123.69 L484.40,123.88 L484.90,124.08 L485.40,124.29 L485.90,124.50 L486.40,124.72 L486.90,124.96 L487.40,125.20 L487.90,125.45 L488.40,125.71 L488.90,125.98 L489.40,126.26 L489.90,126.55 L490.40,126.84 L490.90,127.15 L491.40,127.46 L491.90,127.77 L492.40,128.09 L492.90,128.41 L493.40,128.73 L493.90,129.05 L494.40,129.37 L494.90,129.68 L495.40,129.99 L495.90,130.29 L496.40,130.60 L496.90,130.89 L497.40,131.19 L497.90,131.49 L498.40,131.78 L498.90,132.08 L499.40,132.38 L499.90,132.69 L500.40,132.99 L500.90,133.31 L501.40,133.62 L501.90,133.95 L502.40,134.27 L502.90,134.60 L503.40,134.93 L503.90,135.26 L504.40,135.59 L504.90,135.92 L505.40,136.25 L505.90,136.58 L506.40,136.90 L506.90,137.22 L507.40,137.54 L507.90,137.85 L508.40,138.16 L508.90,138.47 L509.40,138.76 L509.90,139.06 L510.40,139.35 L510.90,139.64 L511.40,139.93 L511.90,140.21 L512.40,140.49 L512.90,140.77 L513.40,141.05 L513.90,141.32 L514.40,141.60 L514.90,141.87 L515.40,142.14 L515.90,142.41 L516.40,142.68 L516.90,142.95 L517.40,143.21 L517.90,143.48 L518.40,143.75 L518.90,144.01 L519.40,144.28 L519.90,144.54 L520.40,144.81 L520.90,145.07 L521.40,145.33 L521.90,145.59 L522.40,145.85 L522.90,146.11 L523.40,146.37 L523.90,146.63 L524.40,146.89 L524.90,147.15 L525.40,147.40 L525.90,147.66 L526.40,147.91 L526.90,148.17 L527.40,148.42 L527.90,148.68 L528.40,148.93 L528.90,149.19 L529.40,149.45 L529.90,149.70 L530.40,149.96 L530.90,150.22 L531.40,150.48 L531.90,150.74 L532.40,151.00 L532.90,151.26 L533.40,151.53 L533.90,151.79 L534.40,152.06 L534.90,152.33 L535.40,152.60 L535.90,152.87 L536.40,153.14 L536.90,153.41 L537.40,153.68 L537.90,153.95 L538.40,154.22 L538.90,154.49 L539.40,154.75 L539.90,155.02 L540.40,155.29 L540.90,155.55 L541.40,155.81 L541.90,156.07 L542.40,156.33 L542.90,156.58 L543.40,156.83 L543.90,157.09 L544.40,157.33 L544.90,157.58 L545.40,157.83 L545.90,158.07 L546.40,158.32 L546.90,158.56 L547.40,158.80 L547.90,159.04 L548.40,159.28 L548.90,159.52 L549.40,159.76 L549.90,159.99 L550.40,160.23 L550.90,160.46 L551.40,160.69 L551.90,160.92 L552.40,161.15 L552.90,161.37 L553.40,161.60 L553.90,161.82 L554.40,162.04 L554.90,162.26 L555.40,162.48 L555.90,162.70 L556.40,162.91 L556.90,163.12 L557.40,163.33 L557.90,163.54 L558.40,163.74 L558.90,163.95 L559.40,164.15 L559.90,164.35 L560.40,164.54 L560.90,164.74 L561.40,164.93 L561.90,165.13 L562.40,165.32 L562.90,165.50 L563.40,165.69 L563.90,165.88 L564.40,166.06 L564.90,166.24 L565.40,166.43 L565.90,166.61 L566.40,166.79 L566.90,166.96 L567.40,167.14 L567.90,167.32 L568.40,167.49 L568.90,167.67 L569.40,167.84 L569.90,168.01 L570.40,168.19 L570.90,168.36 L571.40,168.53 L571.90,168.70 L572.40,168.87 L572.90,169.04 L573.40,169.21 L573.90,169.38 L574.40,169.55 L574.90,169.71 L575.40,169.88 L575.90,170.05 L576.40,170.21 L576.90,170.37 L577.40,170.54 L577.90,170.70 L578.40,170.86 L578.90,171.02 L579.40,171.18 L579.90,171.33 L580.40,171.49 L580.90,171.64 L581.40,171.79 L581.90,171.94 L582.40,172.09 L582.90,172.24 L583.40,172.39 L583.90,172.53 L584.40,172.67 L584.90,172.81 L585.40,172.95 L585.90,173.09 L586.40,173.23 L586.90,173.36 L587.40,173.50 L587.90,173.63 L588.40,173.76 L588.90,173.89 L589.40,174.02 L589.90,174.15 L590.40,174.27 L590.90,174.40 L591.40,174.52 L591.90,174.65 L592.40,174.77 L592.90,174.89 L593.40,175.01 L593.90,175.13 L594.40,175.25 L594.90,175.37 L595.40,175.49 L595.90,175.60 L596.40,175.72 L596.90,175.84 L597.40,175.95 L597.90,176.06 L598.40,176.18 L598.90,176.29 L599.40,176.40 L599.90,176.51 L600.40,176.62 L600.90,176.73 L601.40,176.84 L601.90,176.95 L602.40,177.05 L602.90,177.16 L603.40,177.27 L603.90,177.37 L604.40,177.48 L604.90,177.59 L605.40,177.69 L605.90,177.80 L606.40,177.90 L606.90,178.01 L607.40,178.12 L607.90,178.22 L608.40,178.33 L608.90,178.43 L609.40,178.54 L609.90,178.64 L610.40,178.74 L610.90,178.85 L611.40,178.95 L611.90,179.06 L612.40,179.16 L612.90,179.26 L613.40,179.37 L613.90,179.47 L614.40,179.57 L614.90,179.67 L615.40,179.77 L615.90,179.87 L616.40,179.97 L616.90,180.07 L617.40,180.17 L617.90,180.27 L618.40,180.37 L618.90,180.47 L619.40,180.57 L619.90,180.66 L620.40,180.76 L620.90,180.85 L621.40,180.95 L621.90,181.04 L622.40,181.14 L622.90,181.23 L623.40,181.32 L623.90,181.41 L624.40,181.51 L624.90,181.60 L625.40,181.69 L625.90,181.78 L626.40,181.87 L626.90,181.96 L627.40,182.05 L627.90,182.14 L628.40,182.22 L628.90,182.31 L629.40,182.40 L629.90,182.48 L630.40,182.57 L630.90,182.66 L631.40,182.74 L631.90,182.83 L632.40,182.91 L632.90,183.00 L633.40,183.08 L633.90,183.16 L634.40,183.25 L634.90,183.33 L635.40,183.41 L635.90,183.49 L636.40,183.57 L636.90,183.66 L637.40,183.74 L637.90,183.82 L638.40,183.90 L638.90,183.98 L639.40,184.05 L639.90,184.13 L640.40,184.21 L640.90,184.29 L641.40,184.37 L641.90,184.44 L642.40,184.52 L642.90,184.59 L643.40,184.67 L643.90,184.74 L644.40,184.82 L644.90,184.89 L645.40,184.97 L645.90,185.04 L646.40,185.11 L646.90,185.18 L647.40,185.25 L647.90,185.32 L648.40,185.39 L648.90,185.46 L649.40,185.53 L649.90,185.60 L650.40,185.67 L650.90,185.74 L651.40,185.81 L651.90,185.87 L652.40,185.94 L652.90,186.01 L653.40,186.07 L653.90,186.14 L654.40,186.20 L654.90,186.27 L655.40,186.33 L655.90,186.40 L656.40,186.46 L656.90,186.52 L657.40,186.59 L657.90,186.65 L658.40,186.71 L658.90,186.77 L659.40,186.83 L659.90,186.89 L660.40,186.95 L660.90,187.01 L661.40,187.07 L661.90,187.13 L662.40,187.19 L662.90,187.25 L663.40,187.31 L663.90,187.36 L664.40,187.42 L664.90,187.48 L665.40,187.53 L665.90,187.58 L666.40,187.64 L666.90,187.69 L667.40,187.74 L667.80,187.79" fill="none" stroke="#1a1a1a" stroke-width="1.1"/>
<line x1="402.3" y1="22.4" x2="402.3" y2="205.7" stroke="#222" stroke-width="1.1"/>
<line x1="401.8" y1="205.2" x2="680.5" y2="205.2" stroke="#222" stroke-width="1.1"/>
<line x1="399.6" y1="196.60" x2="402.3" y2="196.60" stroke="#333" stroke-width="1"/>
<text x="397.30" y="199.76" font-size="8.9" text-anchor="end" font-weight="normal" fill="#4d4d4d" font-family='"Liberation Sans", sans-serif' >0.0</text>
<line x1="399.6" y1="163.60" x2="402.3" y2="163.60" stroke="#333" stroke-width="1"/>
<text x="397.30" y="166.76" font-size="8.9" text-anchor="end" font-weight="normal" fill="#4d4d4d" font-family='"Liberation Sans", sans-serif' >0.5</text>
<line x1="399.6" y1="130.60" x2="402.3" y2="130.60" stroke="#333" stroke-width="1"/>
<text x="397.30" y="133.76" font-size="8.9" text-anchor="end" font-weight="normal" fill="#4d4d4d" font-family='"Liberation Sans", sans-serif' >1.0</text>
<line x1="399.6" y1="97.60" x2="402.3" y2="97.60" stroke="#333" stroke-width="1"/>
<text x="397.30" y="100.76" font-size="8.9" text-anchor="end" font-weight="normal" fill="#4d4d4d" font-family='"Liberation Sans", sans-serif' >1.5</text>
<line x1="399.6" y1="64.60" x2="402.3" y2="64.60" stroke="#333" stroke-width="1"/>
<text x="397.30" y="67.76" font-size="8.9" text-anchor="end" font-weight="normal" fill="#4d4d4d" font-family='"Liberation Sans", sans-serif' >2.0</text>
<line x1="399.6" y1="31.60" x2="402.3" y2="31.60" stroke="#333" stroke-width="1"/>
<text x="397.30" y="34.76" font-size="8.9" text-anchor="end" font-weight="normal" fill="#4d4d4d" font-family='"Liberation Sans", sans-serif' >2.5</text>
<line x1="408.10" y1="205.2" x2="408.10" y2="207.89999999999998" stroke="#333" stroke-width="1"/>
<text x="408.10" y="216.20" font-size="8.9" text-anchor="middle" font-weight="normal" fill="#4d4d4d" font-family='"Liberation Sans", sans-serif' >0.2</text>
<line x1="467.48" y1="205.2" x2="467.48" y2="207.89999999999998" stroke="#333" stroke-width="1"/>
<text x="467.48" y="216.20" font-size="8.9" text-anchor="middle" font-weight="normal" fill="#4d4d4d" font-family='"Liberation Sans", sans-serif' >0.4</text>
<line x1="526.86" y1="205.2" x2="526.86" y2="207.89999999999998" stroke="#333" stroke-width="1"/>
<text x="526.86" y="216.20" font-size="8.9" text-anchor="middle" font-weight="normal" fill="#4d4d4d" font-family='"Liberation Sans", sans-serif' >0.6</text>
<line x1="586.24" y1="205.2" x2="586.24" y2="207.89999999999998" stroke="#333" stroke-width="1"/>
<text x="586.24" y="216.20" font-size="8.9" text-anchor="middle" font-weight="normal" fill="#4d4d4d" font-family='"Liberation Sans", sans-serif' >0.8</text>
<line x1="645.62" y1="205.2" x2="645.62" y2="207.89999999999998" stroke="#333" stroke-width="1"/>
<text x="645.62" y="216.20" font-size="8.9" text-anchor="middle" font-weight="normal" fill="#4d4d4d" font-family='"Liberation Sans", sans-serif' >1.0</text>
<text x="541.55" y="228.70" font-size="11.2" text-anchor="middle" font-weight="normal" fill="#111" font-family='"Liberation Sans", sans-serif' textLength="54.50" lengthAdjust="spacingAndGlyphs" >VA (µg/ml)</text>
<text x="379.80" y="113.40" font-size="11.2" text-anchor="middle" font-weight="normal" fill="#111" font-family='"Liberation Sans", sans-serif' textLength="51.60" lengthAdjust="spacingAndGlyphs" transform="rotate(-90 379.8 113.4)">OR 95%CI</text>
<text x="550.20" y="35.60" font-size="13.4" text-anchor="start" font-weight="normal" fill="#000" font-family='"Liberation Serif", serif' textLength="101.30" lengthAdjust="spacingAndGlyphs" stroke="#000" stroke-width="0.05" >P-overall &lt; 0.001</text>
<text x="550.20" y="48.70" font-size="13.4" text-anchor="start" font-weight="normal" fill="#000" font-family='"Liberation Serif", serif' textLength="116.40" lengthAdjust="spacingAndGlyphs" stroke="#000" stroke-width="0.05" >P-nonlinear = 0.088</text>
<text x="364.90" y="244.80" font-size="16.5" text-anchor="start" font-weight="bold" fill="#000" font-family='"Liberation Serif", serif' >d</text>
<path d="M418.50,270.79 L419.00,271.66 L419.50,272.53 L420.00,273.40 L420.50,274.26 L421.00,275.12 L421.50,275.98 L422.00,276.83 L422.50,277.68 L423.00,278.53 L423.50,279.37 L424.00,280.21 L424.50,281.05 L425.00,281.88 L425.50,282.71 L426.00,283.53 L426.50,284.35 L427.00,285.17 L427.50,285.98 L428.00,286.79 L428.50,287.59 L429.00,288.39 L429.50,289.19 L430.00,289.98 L430.50,290.77 L431.00,291.55 L431.50,292.33 L432.00,293.11 L432.50,293.88 L433.00,294.65 L433.50,295.41 L434.00,296.17 L434.50,296.93 L435.00,297.68 L435.50,298.43 L436.00,299.17 L436.50,299.91 L437.00,300.65 L437.50,301.39 L438.00,302.12 L438.50,302.85 L439.00,303.58 L439.50,304.31 L440.00,305.03 L440.50,305.75 L441.00,306.47 L441.50,307.19 L442.00,307.91 L442.50,308.62 L443.00,309.33 L443.50,310.04 L444.00,310.75 L444.50,311.45 L445.00,312.16 L445.50,312.85 L446.00,313.55 L446.50,314.24 L447.00,314.93 L447.50,315.61 L448.00,316.29 L448.50,316.96 L449.00,317.63 L449.50,318.30 L450.00,318.95 L450.50,319.61 L451.00,320.25 L451.50,320.89 L452.00,321.52 L452.50,322.14 L453.00,322.76 L453.50,323.36 L454.00,323.96 L454.50,324.54 L455.00,325.12 L455.50,325.68 L456.00,326.24 L456.50,326.78 L457.00,327.32 L457.50,327.84 L458.00,328.35 L458.50,328.85 L459.00,329.33 L459.50,329.80 L460.00,330.25 L460.50,330.69 L461.00,331.10 L461.50,331.51 L462.00,331.90 L462.50,332.27 L463.00,332.63 L463.50,332.98 L464.00,333.32 L464.50,333.66 L465.00,333.99 L465.50,334.32 L466.00,334.64 L466.50,334.96 L467.00,335.28 L467.50,335.60 L468.00,335.92 L468.50,336.24 L469.00,336.55 L469.50,336.86 L470.00,337.18 L470.50,337.48 L471.00,337.79 L471.50,338.10 L472.00,338.41 L472.50,338.72 L473.00,339.04 L473.50,339.36 L474.00,339.70 L474.50,340.04 L475.00,340.40 L475.50,340.78 L476.00,341.17 L476.50,341.59 L477.00,342.02 L477.50,342.48 L478.00,342.96 L478.50,343.47 L479.00,344.00 L479.50,344.56 L480.00,345.15 L480.50,345.77 L481.00,346.41 L481.50,347.09 L482.00,347.79 L482.50,348.52 L483.00,349.28 L483.50,350.06 L484.00,350.87 L484.50,351.71 L485.00,352.56 L485.50,353.44 L486.00,354.35 L486.50,355.27 L487.00,356.21 L487.50,357.16 L488.00,358.12 L488.50,359.09 L489.00,360.05 L489.50,361.00 L490.00,361.92 L490.50,362.80 L491.00,363.64 L491.50,364.42 L492.00,365.13 L492.50,365.77 L493.00,366.34 L493.50,366.86 L494.00,367.31 L494.50,367.72 L495.00,368.09 L495.50,368.43 L496.00,368.74 L496.50,369.04 L497.00,369.33 L497.50,369.61 L498.00,369.88 L498.50,370.14 L499.00,370.40 L499.50,370.65 L500.00,370.90 L500.50,371.13 L501.00,371.37 L501.50,371.59 L502.00,371.82 L502.50,372.04 L503.00,372.25 L503.50,372.47 L504.00,372.68 L504.50,372.89 L505.00,373.10 L505.50,373.32 L506.00,373.53 L506.50,373.75 L507.00,373.97 L507.50,374.19 L508.00,374.42 L508.50,374.65 L509.00,374.88 L509.50,375.11 L510.00,375.34 L510.50,375.57 L511.00,375.80 L511.50,376.03 L512.00,376.26 L512.50,376.48 L513.00,376.71 L513.50,376.93 L514.00,377.15 L514.50,377.36 L515.00,377.57 L515.50,377.78 L516.00,377.98 L516.50,378.18 L517.00,378.38 L517.50,378.57 L518.00,378.77 L518.50,378.96 L519.00,379.15 L519.50,379.33 L520.00,379.52 L520.50,379.70 L521.00,379.88 L521.50,380.07 L522.00,380.25 L522.50,380.42 L523.00,380.60 L523.50,380.78 L524.00,380.95 L524.50,381.13 L525.00,381.30 L525.50,381.47 L526.00,381.64 L526.50,381.81 L527.00,381.98 L527.50,382.16 L528.00,382.33 L528.50,382.50 L529.00,382.67 L529.50,382.84 L530.00,383.01 L530.50,383.19 L531.00,383.36 L531.50,383.54 L532.00,383.72 L532.50,383.89 L533.00,384.07 L533.50,384.25 L534.00,384.42 L534.50,384.59 L535.00,384.76 L535.50,384.92 L536.00,385.07 L536.50,385.22 L537.00,385.37 L537.50,385.50 L538.00,385.63 L538.50,385.75 L539.00,385.86 L539.50,385.97 L540.00,386.07 L540.50,386.16 L541.00,386.25 L541.50,386.33 L542.00,386.42 L542.50,386.50 L543.00,386.57 L543.50,386.65 L544.00,386.72 L544.50,386.79 L545.00,386.87 L545.50,386.93 L546.00,387.00 L546.50,387.07 L547.00,387.13 L547.50,387.20 L548.00,387.26 L548.50,387.32 L549.00,387.38 L549.50,387.44 L550.00,387.50 L550.50,387.56 L551.00,387.62 L551.50,387.67 L552.00,387.73 L552.50,387.78 L553.00,387.83 L553.50,387.88 L554.00,387.93 L554.50,387.98 L555.00,388.03 L555.50,388.08 L556.00,388.13 L556.50,388.18 L557.00,388.22 L557.50,388.27 L558.00,388.31 L558.50,388.36 L559.00,388.40 L559.50,388.45 L560.00,388.49 L560.50,388.53 L561.00,388.57 L561.50,388.61 L562.00,388.66 L562.50,388.70 L563.00,388.74 L563.50,388.78 L564.00,388.82 L564.50,388.86 L565.00,388.90 L565.50,388.94 L566.00,388.98 L566.50,389.02 L567.00,389.06 L567.50,389.10 L568.00,389.13 L568.50,389.17 L569.00,389.21 L569.50,389.25 L570.00,389.29 L570.50,389.33 L571.00,389.37 L571.50,389.41 L572.00,389.45 L572.50,389.49 L573.00,389.54 L573.50,389.58 L574.00,389.62 L574.50,389.66 L575.00,389.70 L575.50,389.74 L576.00,389.78 L576.50,389.83 L577.00,389.87 L577.50,389.91 L578.00,389.95 L578.50,389.99 L579.00,390.03 L579.50,390.08 L580.00,390.12 L580.50,390.16 L581.00,390.20 L581.50,390.24 L582.00,390.28 L582.50,390.32 L583.00,390.36 L583.50,390.41 L584.00,390.45 L584.50,390.49 L585.00,390.53 L585.50,390.57 L586.00,390.61 L586.50,390.65 L587.00,390.69 L587.50,390.73 L588.00,390.77 L588.50,390.81 L589.00,390.85 L589.50,390.89 L590.00,390.93 L590.50,390.96 L591.00,391.00 L591.50,391.04 L592.00,391.08 L592.50,391.12 L593.00,391.15 L593.50,391.19 L594.00,391.23 L594.50,391.27 L595.00,391.30 L595.50,391.34 L596.00,391.38 L596.50,391.41 L597.00,391.45 L597.50,391.48 L598.00,391.52 L598.50,391.55 L599.00,391.59 L599.50,391.62 L600.00,391.66 L600.50,391.69 L601.00,391.72 L601.50,391.76 L602.00,391.79 L602.50,391.82 L603.00,391.85 L603.50,391.88 L604.00,391.92 L604.50,391.95 L605.00,391.98 L605.50,392.01 L606.00,392.04 L606.50,392.07 L607.00,392.09 L607.50,392.12 L608.00,392.15 L608.50,392.18 L609.00,392.21 L609.50,392.23 L610.00,392.26 L610.50,392.28 L611.00,392.31 L611.50,392.33 L612.00,392.36 L612.50,392.38 L613.00,392.41 L613.50,392.43 L614.00,392.45 L614.50,392.47 L615.00,392.49 L615.50,392.51 L616.00,392.53 L616.50,392.55 L617.00,392.57 L617.50,392.59 L618.00,392.61 L618.50,392.63 L619.00,392.65 L619.50,392.67 L620.00,392.69 L620.50,392.71 L621.00,392.72 L621.50,392.74 L622.00,392.76 L622.50,392.78 L623.00,392.80 L623.50,392.81 L624.00,392.83 L624.50,392.85 L625.00,392.87 L625.50,392.89 L626.00,392.90 L626.50,392.92 L627.00,392.94 L627.50,392.96 L628.00,392.97 L628.50,392.99 L629.00,393.01 L629.50,393.03 L630.00,393.04 L630.50,393.06 L631.00,393.08 L631.50,393.10 L632.00,393.11 L632.50,393.13 L633.00,393.15 L633.50,393.16 L634.00,393.18 L634.50,393.20 L635.00,393.21 L635.50,393.23 L636.00,393.24 L636.50,393.26 L637.00,393.28 L637.50,393.29 L638.00,393.31 L638.50,393.32 L639.00,393.34 L639.50,393.35 L640.00,393.37 L640.50,393.38 L641.00,393.40 L641.50,393.41 L642.00,393.43 L642.50,393.44 L643.00,393.46 L643.50,393.47 L644.00,393.48 L644.50,393.50 L645.00,393.51 L645.50,393.53 L646.00,393.54 L646.50,393.55 L647.00,393.56 L647.50,393.58 L648.00,393.59 L648.50,393.60 L649.00,393.61 L649.50,393.63 L650.00,393.64 L650.50,393.65 L651.00,393.66 L651.50,393.67 L652.00,393.68 L652.50,393.69 L653.00,393.70 L653.50,393.71 L654.00,393.72 L654.50,393.73 L655.00,393.74 L655.50,393.75 L656.00,393.76 L656.50,393.77 L657.00,393.78 L657.50,393.78 L658.00,393.79 L658.50,393.80 L659.00,393.81 L659.50,393.81 L660.00,393.82 L660.50,393.83 L661.00,393.83 L661.50,393.84 L662.00,393.85 L662.50,393.85 L663.00,393.86 L663.50,393.86 L664.00,393.87 L664.50,393.87 L665.00,393.87 L665.50,393.88 L666.00,393.88 L666.50,393.88 L667.00,393.89 L667.50,393.89 L668.00,393.89 L668.50,393.89 L669.00,393.89 L669.50,393.90 L670.00,393.90 L670.50,393.90 L670.80,393.90 L670.80,421.97 L670.50,421.93 L670.00,421.88 L669.50,421.83 L669.00,421.78 L668.50,421.72 L668.00,421.67 L667.50,421.61 L667.00,421.55 L666.50,421.49 L666.00,421.43 L665.50,421.37 L665.00,421.31 L664.50,421.25 L664.00,421.19 L663.50,421.13 L663.00,421.07 L662.50,421.00 L662.00,420.94 L661.50,420.88 L661.00,420.82 L660.50,420.75 L660.00,420.69 L659.50,420.63 L659.00,420.57 L658.50,420.50 L658.00,420.44 L657.50,420.38 L657.00,420.31 L656.50,420.25 L656.00,420.18 L655.50,420.12 L655.00,420.05 L654.50,419.99 L654.00,419.92 L653.50,419.86 L653.00,419.79 L652.50,419.73 L652.00,419.66 L651.50,419.59 L651.00,419.53 L650.50,419.46 L650.00,419.39 L649.50,419.33 L649.00,419.26 L648.50,419.19 L648.00,419.13 L647.50,419.06 L647.00,418.99 L646.50,418.92 L646.00,418.85 L645.50,418.78 L645.00,418.72 L644.50,418.65 L644.00,418.58 L643.50,418.51 L643.00,418.44 L642.50,418.37 L642.00,418.30 L641.50,418.23 L641.00,418.16 L640.50,418.09 L640.00,418.02 L639.50,417.95 L639.00,417.88 L638.50,417.81 L638.00,417.74 L637.50,417.66 L637.00,417.59 L636.50,417.52 L636.00,417.45 L635.50,417.38 L635.00,417.31 L634.50,417.23 L634.00,417.16 L633.50,417.09 L633.00,417.02 L632.50,416.94 L632.00,416.87 L631.50,416.80 L631.00,416.72 L630.50,416.65 L630.00,416.58 L629.50,416.50 L629.00,416.43 L628.50,416.35 L628.00,416.28 L627.50,416.20 L627.00,416.13 L626.50,416.05 L626.00,415.98 L625.50,415.90 L625.00,415.83 L624.50,415.75 L624.00,415.68 L623.50,415.60 L623.00,415.53 L622.50,415.45 L622.00,415.37 L621.50,415.30 L621.00,415.22 L620.50,415.15 L620.00,415.07 L619.50,414.99 L619.00,414.91 L618.50,414.84 L618.00,414.76 L617.50,414.68 L617.00,414.60 L616.50,414.53 L616.00,414.45 L615.50,414.37 L615.00,414.29 L614.50,414.21 L614.00,414.13 L613.50,414.05 L613.00,413.97 L612.50,413.89 L612.00,413.81 L611.50,413.72 L611.00,413.64 L610.50,413.56 L610.00,413.48 L609.50,413.39 L609.00,413.31 L608.50,413.23 L608.00,413.14 L607.50,413.06 L607.00,412.98 L606.50,412.89 L606.00,412.81 L605.50,412.72 L605.00,412.63 L604.50,412.55 L604.00,412.46 L603.50,412.38 L603.00,412.29 L602.50,412.20 L602.00,412.12 L601.50,412.03 L601.00,411.94 L600.50,411.85 L600.00,411.76 L599.50,411.68 L599.00,411.59 L598.50,411.50 L598.00,411.41 L597.50,411.32 L597.00,411.23 L596.50,411.14 L596.00,411.05 L595.50,410.96 L595.00,410.87 L594.50,410.78 L594.00,410.69 L593.50,410.60 L593.00,410.51 L592.50,410.42 L592.00,410.33 L591.50,410.24 L591.00,410.15 L590.50,410.06 L590.00,409.97 L589.50,409.88 L589.00,409.79 L588.50,409.70 L588.00,409.60 L587.50,409.51 L587.00,409.42 L586.50,409.33 L586.00,409.24 L585.50,409.15 L585.00,409.05 L584.50,408.96 L584.00,408.87 L583.50,408.78 L583.00,408.69 L582.50,408.60 L582.00,408.50 L581.50,408.41 L581.00,408.32 L580.50,408.23 L580.00,408.14 L579.50,408.04 L579.00,407.95 L578.50,407.86 L578.00,407.77 L577.50,407.68 L577.00,407.59 L576.50,407.49 L576.00,407.40 L575.50,407.31 L575.00,407.22 L574.50,407.13 L574.00,407.04 L573.50,406.95 L573.00,406.86 L572.50,406.77 L572.00,406.68 L571.50,406.59 L571.00,406.50 L570.50,406.41 L570.00,406.32 L569.50,406.23 L569.00,406.14 L568.50,406.05 L568.00,405.96 L567.50,405.88 L567.00,405.79 L566.50,405.70 L566.00,405.61 L565.50,405.52 L565.00,405.44 L564.50,405.35 L564.00,405.26 L563.50,405.17 L563.00,405.08 L562.50,405.00 L562.00,404.91 L561.50,404.82 L561.00,404.73 L560.50,404.64 L560.00,404.55 L559.50,404.46 L559.00,404.38 L558.50,404.29 L558.00,404.20 L557.50,404.11 L557.00,404.02 L556.50,403.93 L556.00,403.84 L555.50,403.74 L555.00,403.65 L554.50,403.56 L554.00,403.47 L553.50,403.38 L553.00,403.28 L552.50,403.19 L552.00,403.09 L551.50,403.00 L551.00,402.90 L550.50,402.81 L550.00,402.71 L549.50,402.62 L549.00,402.52 L548.50,402.42 L548.00,402.32 L547.50,402.22 L547.00,402.12 L546.50,402.02 L546.00,401.92 L545.50,401.81 L545.00,401.71 L544.50,401.61 L544.00,401.50 L543.50,401.40 L543.00,401.29 L542.50,401.18 L542.00,401.07 L541.50,400.96 L541.00,400.85 L540.50,400.74 L540.00,400.63 L539.50,400.52 L539.00,400.40 L538.50,400.29 L538.00,400.17 L537.50,400.05 L537.00,399.93 L536.50,399.81 L536.00,399.69 L535.50,399.57 L535.00,399.44 L534.50,399.31 L534.00,399.17 L533.50,399.04 L533.00,398.90 L532.50,398.75 L532.00,398.60 L531.50,398.44 L531.00,398.28 L530.50,398.12 L530.00,397.94 L529.50,397.76 L529.00,397.57 L528.50,397.37 L528.00,397.17 L527.50,396.96 L527.00,396.74 L526.50,396.51 L526.00,396.28 L525.50,396.04 L525.00,395.79 L524.50,395.54 L524.00,395.29 L523.50,395.02 L523.00,394.76 L522.50,394.49 L522.00,394.21 L521.50,393.94 L521.00,393.66 L520.50,393.38 L520.00,393.10 L519.50,392.82 L519.00,392.54 L518.50,392.26 L518.00,391.97 L517.50,391.69 L517.00,391.42 L516.50,391.14 L516.00,390.87 L515.50,390.59 L515.00,390.32 L514.50,390.05 L514.00,389.79 L513.50,389.52 L513.00,389.26 L512.50,388.99 L512.00,388.72 L511.50,388.46 L511.00,388.18 L510.50,387.91 L510.00,387.63 L509.50,387.34 L509.00,387.05 L508.50,386.75 L508.00,386.44 L507.50,386.13 L507.00,385.81 L506.50,385.47 L506.00,385.13 L505.50,384.78 L505.00,384.42 L504.50,384.05 L504.00,383.66 L503.50,383.25 L503.00,382.81 L502.50,382.35 L502.00,381.86 L501.50,381.33 L501.00,380.76 L500.50,380.14 L500.00,379.47 L499.50,378.75 L499.00,377.97 L498.50,377.15 L498.00,376.28 L497.50,375.39 L497.00,374.47 L496.50,373.54 L496.00,372.62 L495.50,371.71 L495.00,370.83 L494.50,370.00 L494.00,369.21 L493.50,368.49 L493.00,367.83 L492.50,367.24 L492.00,366.73 L491.50,366.28 L491.00,365.89 L490.50,365.55 L490.00,365.24 L489.50,364.97 L489.00,364.72 L488.50,364.48 L488.00,364.24 L487.50,363.99 L487.00,363.74 L486.50,363.47 L486.00,363.18 L485.50,362.87 L485.00,362.55 L484.50,362.21 L484.00,361.85 L483.50,361.49 L483.00,361.13 L482.50,360.77 L482.00,360.41 L481.50,360.07 L481.00,359.75 L480.50,359.44 L480.00,359.15 L479.50,358.88 L479.00,358.63 L478.50,358.40 L478.00,358.19 L477.50,358.00 L477.00,357.82 L476.50,357.67 L476.00,357.53 L475.50,357.41 L475.00,357.30 L474.50,357.20 L474.00,357.12 L473.50,357.04 L473.00,356.98 L472.50,356.93 L472.00,356.88 L471.50,356.85 L471.00,356.84 L470.50,356.84 L470.00,356.85 L469.50,356.88 L469.00,356.93 L468.50,356.99 L468.00,357.07 L467.50,357.16 L467.00,357.27 L466.50,357.38 L466.00,357.51 L465.50,357.64 L465.00,357.77 L464.50,357.90 L464.00,358.04 L463.50,358.17 L463.00,358.30 L462.50,358.43 L462.00,358.55 L461.50,358.68 L461.00,358.81 L460.50,358.93 L460.00,359.06 L459.50,359.18 L459.00,359.31 L458.50,359.44 L458.00,359.57 L457.50,359.71 L457.00,359.85 L456.50,359.99 L456.00,360.13 L455.50,360.28 L455.00,360.43 L454.50,360.59 L454.00,360.75 L453.50,360.91 L453.00,361.08 L452.50,361.25 L452.00,361.42 L451.50,361.60 L451.00,361.78 L450.50,361.97 L450.00,362.15 L449.50,362.34 L449.00,362.54 L448.50,362.73 L448.00,362.93 L447.50,363.13 L447.00,363.33 L446.50,363.54 L446.00,363.75 L445.50,363.95 L445.00,364.16 L444.50,364.37 L444.00,364.58 L443.50,364.80 L443.00,365.01 L442.50,365.22 L442.00,365.44 L441.50,365.65 L441.00,365.87 L440.50,366.09 L440.00,366.30 L439.50,366.52 L439.00,366.74 L438.50,366.96 L438.00,367.18 L437.50,367.40 L437.00,367.62 L436.50,367.85 L436.00,368.07 L435.50,368.30 L435.00,368.53 L434.50,368.75 L434.00,368.98 L433.50,369.21 L433.00,369.45 L432.50,369.68 L432.00,369.91 L431.50,370.15 L431.00,370.39 L430.50,370.62 L430.00,370.86 L429.50,371.10 L429.00,371.35 L428.50,371.59 L428.00,371.83 L427.50,372.08 L427.00,372.33 L426.50,372.57 L426.00,372.82 L425.50,373.07 L425.00,373.33 L424.50,373.58 L424.00,373.83 L423.50,374.09 L423.00,374.34 L422.50,374.60 L422.00,374.86 L421.50,375.12 L421.00,375.38 L420.50,375.65 L420.00,375.91 L419.50,376.17 L419.00,376.44 L418.50,376.70 Z" fill="#cccccc"/>
<line x1="463.5" y1="260.1" x2="463.5" y2="441.5" stroke="#b8323a" stroke-width="1.05" stroke-dasharray="3.8 3.595"/>
<line x1="480.6" y1="260.1" x2="480.6" y2="441.5" stroke="#b8323a" stroke-width="1.05" stroke-dasharray="3.8 3.595"/>
<line x1="507.3" y1="260.1" x2="507.3" y2="441.5" stroke="#b8323a" stroke-width="1.05" stroke-dasharray="3.8 3.595"/>
<line x1="539.4" y1="260.1" x2="539.4" y2="441.5" stroke="#b8323a" stroke-width="1.05" stroke-dasharray="3.8 3.595"/>
<line x1="405.9" y1="366.6" x2="685" y2="366.6" stroke="#b03cf2" stroke-width="1.1" stroke-dasharray="4.05 3.838"/>
<path d="M418.50,336.90 L419.00,337.00 L419.50,337.11 L420.00,337.21 L420.50,337.32 L421.00,337.42 L421.50,337.52 L422.00,337.63 L422.50,337.73 L423.00,337.84 L423.50,337.94 L424.00,338.05 L424.50,338.15 L425.00,338.25 L425.50,338.36 L426.00,338.46 L426.50,338.57 L427.00,338.67 L427.50,338.78 L428.00,338.88 L428.50,338.99 L429.00,339.09 L429.50,339.20 L430.00,339.30 L430.50,339.41 L431.00,339.52 L431.50,339.62 L432.00,339.73 L432.50,339.84 L433.00,339.94 L433.50,340.05 L434.00,340.16 L434.50,340.27 L435.00,340.37 L435.50,340.48 L436.00,340.59 L436.50,340.69 L437.00,340.79 L437.50,340.90 L438.00,341.00 L438.50,341.10 L439.00,341.20 L439.50,341.29 L440.00,341.39 L440.50,341.48 L441.00,341.58 L441.50,341.67 L442.00,341.76 L442.50,341.85 L443.00,341.94 L443.50,342.02 L444.00,342.11 L444.50,342.20 L445.00,342.28 L445.50,342.37 L446.00,342.45 L446.50,342.53 L447.00,342.62 L447.50,342.70 L448.00,342.78 L448.50,342.86 L449.00,342.94 L449.50,343.02 L450.00,343.10 L450.50,343.18 L451.00,343.26 L451.50,343.34 L452.00,343.42 L452.50,343.50 L453.00,343.58 L453.50,343.66 L454.00,343.74 L454.50,343.82 L455.00,343.89 L455.50,343.97 L456.00,344.05 L456.50,344.12 L457.00,344.20 L457.50,344.27 L458.00,344.35 L458.50,344.42 L459.00,344.49 L459.50,344.57 L460.00,344.65 L460.50,344.72 L461.00,344.80 L461.50,344.88 L462.00,344.96 L462.50,345.04 L463.00,345.13 L463.50,345.22 L464.00,345.30 L464.50,345.40 L465.00,345.49 L465.50,345.59 L466.00,345.69 L466.50,345.79 L467.00,345.90 L467.50,346.01 L468.00,346.13 L468.50,346.26 L469.00,346.39 L469.50,346.53 L470.00,346.68 L470.50,346.84 L471.00,347.01 L471.50,347.19 L472.00,347.38 L472.50,347.58 L473.00,347.80 L473.50,348.02 L474.00,348.25 L474.50,348.49 L475.00,348.75 L475.50,349.01 L476.00,349.29 L476.50,349.58 L477.00,349.88 L477.50,350.20 L478.00,350.54 L478.50,350.89 L479.00,351.27 L479.50,351.67 L480.00,352.09 L480.50,352.54 L481.00,353.02 L481.50,353.52 L482.00,354.04 L482.50,354.59 L483.00,355.15 L483.50,355.73 L484.00,356.31 L484.50,356.90 L485.00,357.50 L485.50,358.10 L486.00,358.70 L486.50,359.30 L487.00,359.90 L487.50,360.50 L488.00,361.10 L488.50,361.70 L489.00,362.30 L489.50,362.91 L490.00,363.51 L490.50,364.12 L491.00,364.72 L491.50,365.33 L492.00,365.95 L492.50,366.56 L493.00,367.18 L493.50,367.80 L494.00,368.42 L494.50,369.04 L495.00,369.66 L495.50,370.28 L496.00,370.90 L496.50,371.50 L497.00,372.10 L497.50,372.68 L498.00,373.24 L498.50,373.79 L499.00,374.32 L499.50,374.84 L500.00,375.33 L500.50,375.80 L501.00,376.26 L501.50,376.70 L502.00,377.12 L502.50,377.54 L503.00,377.94 L503.50,378.32 L504.00,378.70 L504.50,379.07 L505.00,379.44 L505.50,379.80 L506.00,380.15 L506.50,380.50 L507.00,380.84 L507.50,381.18 L508.00,381.52 L508.50,381.85 L509.00,382.17 L509.50,382.50 L510.00,382.82 L510.50,383.13 L511.00,383.44 L511.50,383.75 L512.00,384.05 L512.50,384.34 L513.00,384.64 L513.50,384.93 L514.00,385.21 L514.50,385.49 L515.00,385.76 L515.50,386.03 L516.00,386.30 L516.50,386.55 L517.00,386.81 L517.50,387.05 L518.00,387.29 L518.50,387.53 L519.00,387.75 L519.50,387.98 L520.00,388.20 L520.50,388.41 L521.00,388.62 L521.50,388.83 L522.00,389.03 L522.50,389.23 L523.00,389.42 L523.50,389.61 L524.00,389.80 L524.50,389.99 L525.00,390.17 L525.50,390.35 L526.00,390.52 L526.50,390.69 L527.00,390.86 L527.50,391.02 L528.00,391.18 L528.50,391.33 L529.00,391.48 L529.50,391.62 L530.00,391.77 L530.50,391.90 L531.00,392.03 L531.50,392.16 L532.00,392.29 L532.50,392.41 L533.00,392.53 L533.50,392.64 L534.00,392.76 L534.50,392.87 L535.00,392.98 L535.50,393.09 L536.00,393.19 L536.50,393.30 L537.00,393.40 L537.50,393.51 L538.00,393.61 L538.50,393.71 L539.00,393.82 L539.50,393.92 L540.00,394.03 L540.50,394.13 L541.00,394.23 L541.50,394.34 L542.00,394.44 L542.50,394.54 L543.00,394.64 L543.50,394.74 L544.00,394.84 L544.50,394.94 L545.00,395.04 L545.50,395.13 L546.00,395.23 L546.50,395.32 L547.00,395.41 L547.50,395.50 L548.00,395.59 L548.50,395.68 L549.00,395.76 L549.50,395.85 L550.00,395.93 L550.50,396.01 L551.00,396.09 L551.50,396.18 L552.00,396.26 L552.50,396.33 L553.00,396.41 L553.50,396.49 L554.00,396.57 L554.50,396.64 L555.00,396.72 L555.50,396.79 L556.00,396.87 L556.50,396.94 L557.00,397.02 L557.50,397.09 L558.00,397.16 L558.50,397.23 L559.00,397.31 L559.50,397.38 L560.00,397.45 L560.50,397.52 L561.00,397.59 L561.50,397.66 L562.00,397.73 L562.50,397.80 L563.00,397.87 L563.50,397.94 L564.00,398.01 L564.50,398.08 L565.00,398.15 L565.50,398.22 L566.00,398.29 L566.50,398.36 L567.00,398.43 L567.50,398.50 L568.00,398.57 L568.50,398.64 L569.00,398.71 L569.50,398.78 L570.00,398.85 L570.50,398.92 L571.00,398.99 L571.50,399.07 L572.00,399.14 L572.50,399.21 L573.00,399.28 L573.50,399.36 L574.00,399.43 L574.50,399.51 L575.00,399.58 L575.50,399.66 L576.00,399.73 L576.50,399.81 L577.00,399.88 L577.50,399.96 L578.00,400.03 L578.50,400.11 L579.00,400.18 L579.50,400.26 L580.00,400.34 L580.50,400.41 L581.00,400.49 L581.50,400.57 L582.00,400.64 L582.50,400.72 L583.00,400.80 L583.50,400.88 L584.00,400.95 L584.50,401.03 L585.00,401.11 L585.50,401.18 L586.00,401.26 L586.50,401.34 L587.00,401.42 L587.50,401.49 L588.00,401.57 L588.50,401.65 L589.00,401.73 L589.50,401.80 L590.00,401.88 L590.50,401.96 L591.00,402.04 L591.50,402.12 L592.00,402.19 L592.50,402.27 L593.00,402.35 L593.50,402.43 L594.00,402.50 L594.50,402.58 L595.00,402.66 L595.50,402.74 L596.00,402.81 L596.50,402.89 L597.00,402.97 L597.50,403.04 L598.00,403.12 L598.50,403.20 L599.00,403.28 L599.50,403.35 L600.00,403.43 L600.50,403.50 L601.00,403.58 L601.50,403.66 L602.00,403.73 L602.50,403.81 L603.00,403.88 L603.50,403.96 L604.00,404.04 L604.50,404.11 L605.00,404.19 L605.50,404.26 L606.00,404.34 L606.50,404.41 L607.00,404.48 L607.50,404.56 L608.00,404.63 L608.50,404.71 L609.00,404.78 L609.50,404.85 L610.00,404.92 L610.50,405.00 L611.00,405.07 L611.50,405.14 L612.00,405.21 L612.50,405.28 L613.00,405.36 L613.50,405.43 L614.00,405.50 L614.50,405.57 L615.00,405.64 L615.50,405.71 L616.00,405.78 L616.50,405.85 L617.00,405.92 L617.50,405.98 L618.00,406.05 L618.50,406.12 L619.00,406.19 L619.50,406.26 L620.00,406.33 L620.50,406.39 L621.00,406.46 L621.50,406.53 L622.00,406.60 L622.50,406.66 L623.00,406.73 L623.50,406.80 L624.00,406.86 L624.50,406.93 L625.00,407.00 L625.50,407.07 L626.00,407.13 L626.50,407.20 L627.00,407.26 L627.50,407.33 L628.00,407.40 L628.50,407.46 L629.00,407.53 L629.50,407.59 L630.00,407.66 L630.50,407.73 L631.00,407.79 L631.50,407.86 L632.00,407.92 L632.50,407.99 L633.00,408.05 L633.50,408.12 L634.00,408.18 L634.50,408.25 L635.00,408.31 L635.50,408.38 L636.00,408.44 L636.50,408.50 L637.00,408.57 L637.50,408.63 L638.00,408.70 L638.50,408.76 L639.00,408.82 L639.50,408.89 L640.00,408.95 L640.50,409.01 L641.00,409.08 L641.50,409.14 L642.00,409.20 L642.50,409.27 L643.00,409.33 L643.50,409.39 L644.00,409.45 L644.50,409.52 L645.00,409.58 L645.50,409.64 L646.00,409.70 L646.50,409.76 L647.00,409.83 L647.50,409.89 L648.00,409.95 L648.50,410.01 L649.00,410.07 L649.50,410.13 L650.00,410.19 L650.50,410.25 L651.00,410.31 L651.50,410.37 L652.00,410.43 L652.50,410.50 L653.00,410.56 L653.50,410.61 L654.00,410.67 L654.50,410.73 L655.00,410.79 L655.50,410.85 L656.00,410.91 L656.50,410.97 L657.00,411.03 L657.50,411.09 L658.00,411.15 L658.50,411.21 L659.00,411.26 L659.50,411.32 L660.00,411.38 L660.50,411.44 L661.00,411.50 L661.50,411.55 L662.00,411.61 L662.50,411.67 L663.00,411.73 L663.50,411.78 L664.00,411.84 L664.50,411.90 L665.00,411.95 L665.50,412.01 L666.00,412.07 L666.50,412.12 L667.00,412.18 L667.50,412.23 L668.00,412.29 L668.50,412.34 L669.00,412.39 L669.50,412.44 L670.00,412.49 L670.50,412.53 L670.80,412.57" fill="none" stroke="#1a1a1a" stroke-width="1.1"/>
<line x1="405.7" y1="258.9" x2="405.7" y2="442.0" stroke="#222" stroke-width="1.1"/>
<line x1="405.2" y1="441.5" x2="684" y2="441.5" stroke="#222" stroke-width="1.1"/>
<line x1="403.0" y1="433.10" x2="405.7" y2="433.10" stroke="#333" stroke-width="1"/>
<text x="400.40" y="436.40" font-size="9.3" text-anchor="end" font-weight="normal" fill="#4d4d4d" font-family='"Liberation Sans", sans-serif' >0.0</text>
<line x1="403.0" y1="399.95" x2="405.7" y2="399.95" stroke="#333" stroke-width="1"/>
<text x="400.40" y="403.25" font-size="9.3" text-anchor="end" font-weight="normal" fill="#4d4d4d" font-family='"Liberation Sans", sans-serif' >0.5</text>
<line x1="403.0" y1="366.80" x2="405.7" y2="366.80" stroke="#333" stroke-width="1"/>
<text x="400.40" y="370.10" font-size="9.3" text-anchor="end" font-weight="normal" fill="#4d4d4d" font-family='"Liberation Sans", sans-serif' >1.0</text>
<line x1="403.0" y1="333.65" x2="405.7" y2="333.65" stroke="#333" stroke-width="1"/>
<text x="400.40" y="336.95" font-size="9.3" text-anchor="end" font-weight="normal" fill="#4d4d4d" font-family='"Liberation Sans", sans-serif' >1.5</text>
<line x1="403.0" y1="300.50" x2="405.7" y2="300.50" stroke="#333" stroke-width="1"/>
<text x="400.40" y="303.80" font-size="9.3" text-anchor="end" font-weight="normal" fill="#4d4d4d" font-family='"Liberation Sans", sans-serif' >2.0</text>
<line x1="403.0" y1="267.35" x2="405.7" y2="267.35" stroke="#333" stroke-width="1"/>
<text x="400.40" y="270.65" font-size="9.3" text-anchor="end" font-weight="normal" fill="#4d4d4d" font-family='"Liberation Sans", sans-serif' >2.5</text>
<line x1="452.70" y1="441.5" x2="452.70" y2="444.2" stroke="#333" stroke-width="1"/>
<text x="452.70" y="452.60" font-size="9.3" text-anchor="middle" font-weight="normal" fill="#4d4d4d" font-family='"Liberation Sans", sans-serif' >0.05</text>
<line x1="530.25" y1="441.5" x2="530.25" y2="444.2" stroke="#333" stroke-width="1"/>
<text x="530.25" y="452.60" font-size="9.3" text-anchor="middle" font-weight="normal" fill="#4d4d4d" font-family='"Liberation Sans", sans-serif' >0.10</text>
<line x1="607.80" y1="441.5" x2="607.80" y2="444.2" stroke="#333" stroke-width="1"/>
<text x="607.80" y="452.60" font-size="9.3" text-anchor="middle" font-weight="normal" fill="#4d4d4d" font-family='"Liberation Sans", sans-serif' >0.15</text>
<text x="544.45" y="464.20" font-size="11.2" text-anchor="middle" font-weight="normal" fill="#111" font-family='"Liberation Sans", sans-serif' textLength="114.80" lengthAdjust="spacingAndGlyphs" >VA:(TG+TC) (µg/µmol)</text>
<text x="383.50" y="350.20" font-size="11.2" text-anchor="middle" font-weight="normal" fill="#111" font-family='"Liberation Sans", sans-serif' textLength="52.40" lengthAdjust="spacingAndGlyphs" transform="rotate(-90 383.5 350.2)">OR 95%CI</text>
<text x="544.00" y="272.10" font-size="13.4" text-anchor="start" font-weight="normal" fill="#000" font-family='"Liberation Serif", serif' textLength="100.60" lengthAdjust="spacingAndGlyphs" stroke="#000" stroke-width="0.05" >P-overall &lt; 0.001</text>
<text x="544.00" y="285.10" font-size="13.4" text-anchor="start" font-weight="normal" fill="#000" font-family='"Liberation Serif", serif' textLength="116.00" lengthAdjust="spacingAndGlyphs" stroke="#000" stroke-width="0.05" >P-nonlinear = 0.153</text>
</svg>
</body></html>
